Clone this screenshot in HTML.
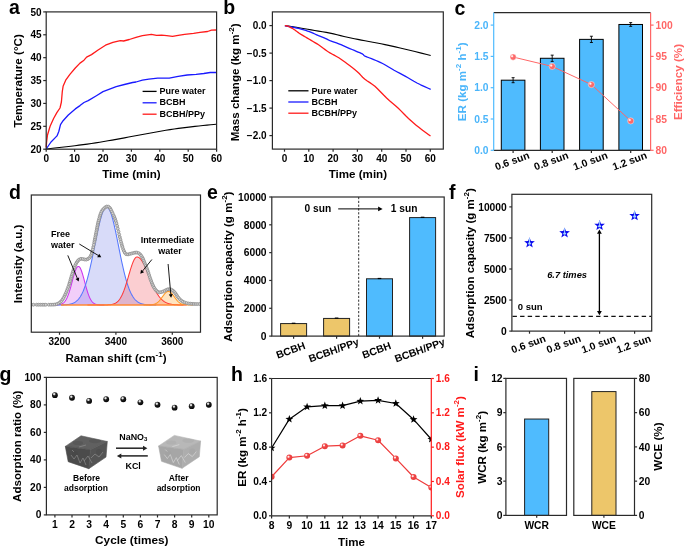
<!DOCTYPE html>
<html><head><meta charset="utf-8"><style>html,body{margin:0;padding:0;background:#fff;width:685px;height:547px;overflow:hidden}svg{display:block;will-change:transform}text{font-family:"Liberation Sans",sans-serif}</style></head>
<body><svg xmlns="http://www.w3.org/2000/svg" width="685" height="547" viewBox="0 0 685 547" font-family="Liberation Sans, sans-serif"><text x="9.10" y="14.30" font-size="19.5" text-anchor="start" fill="#000" font-weight="bold">a</text>
<polyline points="46.20,149.00 48.87,148.70 52.57,148.29 56.95,147.81 61.67,147.27 66.40,146.73 70.80,146.20 74.92,145.69 79.05,145.17 83.19,144.64 87.33,144.09 91.46,143.51 95.60,142.90 99.73,142.24 103.87,141.55 108.00,140.83 112.13,140.09 116.27,139.35 120.40,138.60 124.53,137.85 128.67,137.08 132.80,136.31 136.93,135.53 141.07,134.76 145.20,134.00 149.33,133.24 153.46,132.47 157.59,131.71 161.73,130.97 165.86,130.26 170.00,129.60 174.19,128.98 178.43,128.40 182.68,127.86 186.88,127.34 190.97,126.86 194.90,126.40 198.88,125.96 203.00,125.54 207.01,125.15 210.67,124.80 213.75,124.52 216.00,124.30" fill="none" stroke="#000" stroke-width="1.1" stroke-linejoin="round"/>
<polyline points="46.20,149.00 51.00,142.00 57.00,135.90 58.80,131.50 60.50,124.60 63.10,120.70 68.30,115.00 75.30,108.90 80.00,105.60 84.00,102.50 88.20,100.60 96.40,95.70 103.00,91.60 109.60,89.10 116.20,86.60 124.40,84.50 132.60,82.50 136.00,82.00 142.40,80.10 148.80,79.10 157.70,78.20 169.30,78.20 178.20,76.30 187.20,75.00 196.10,74.40 203.80,73.50 210.20,72.50 216.00,72.50" fill="none" stroke="#1a1aff" stroke-width="1.3" stroke-linejoin="round"/>
<polyline points="46.20,147.40 46.60,142.00 47.50,135.00 50.10,126.30 53.60,118.50 57.00,112.40 60.00,108.00 61.40,102.00 62.30,91.50 63.10,86.30 65.70,80.20 70.10,74.10 75.30,68.00 80.00,63.10 84.00,60.20 86.60,57.10 91.50,54.60 98.10,50.00 105.50,45.20 112.90,42.30 120.30,40.60 123.60,41.00 129.30,39.50 136.00,37.30 142.40,35.60 151.40,34.30 156.50,35.40 161.60,35.10 166.70,35.60 172.50,36.40 178.20,35.40 184.60,34.30 193.60,33.40 200.00,32.40 207.60,31.50 211.50,30.20 216.00,30.00" fill="none" stroke="#ff1a1a" stroke-width="1.3" stroke-linejoin="round"/>
<rect x="46.2" y="11.9" width="170.40" height="137.30" fill="none" stroke="#2a2a2a" stroke-width="1.2"/>
<line x1="43.20" y1="149.20" x2="46.20" y2="149.20" stroke="#2a2a2a" stroke-width="1.2"/>
<text x="41.60" y="152.80" font-size="10" text-anchor="end" fill="#000" font-weight="bold">20</text>
<line x1="43.20" y1="126.32" x2="46.20" y2="126.32" stroke="#2a2a2a" stroke-width="1.2"/>
<text x="41.60" y="129.92" font-size="10" text-anchor="end" fill="#000" font-weight="bold">25</text>
<line x1="43.20" y1="103.43" x2="46.20" y2="103.43" stroke="#2a2a2a" stroke-width="1.2"/>
<text x="41.60" y="107.03" font-size="10" text-anchor="end" fill="#000" font-weight="bold">30</text>
<line x1="43.20" y1="80.55" x2="46.20" y2="80.55" stroke="#2a2a2a" stroke-width="1.2"/>
<text x="41.60" y="84.15" font-size="10" text-anchor="end" fill="#000" font-weight="bold">35</text>
<line x1="43.20" y1="57.67" x2="46.20" y2="57.67" stroke="#2a2a2a" stroke-width="1.2"/>
<text x="41.60" y="61.27" font-size="10" text-anchor="end" fill="#000" font-weight="bold">40</text>
<line x1="43.20" y1="34.78" x2="46.20" y2="34.78" stroke="#2a2a2a" stroke-width="1.2"/>
<text x="41.60" y="38.38" font-size="10" text-anchor="end" fill="#000" font-weight="bold">45</text>
<line x1="43.20" y1="11.90" x2="46.20" y2="11.90" stroke="#2a2a2a" stroke-width="1.2"/>
<text x="41.60" y="15.50" font-size="10" text-anchor="end" fill="#000" font-weight="bold">50</text>
<line x1="46.20" y1="149.20" x2="46.20" y2="151.80" stroke="#2a2a2a" stroke-width="1.2"/>
<text x="46.20" y="161.60" font-size="10" text-anchor="middle" fill="#000" font-weight="bold">0</text>
<line x1="74.60" y1="149.20" x2="74.60" y2="151.80" stroke="#2a2a2a" stroke-width="1.2"/>
<text x="74.60" y="161.60" font-size="10" text-anchor="middle" fill="#000" font-weight="bold">10</text>
<line x1="103.00" y1="149.20" x2="103.00" y2="151.80" stroke="#2a2a2a" stroke-width="1.2"/>
<text x="103.00" y="161.60" font-size="10" text-anchor="middle" fill="#000" font-weight="bold">20</text>
<line x1="131.40" y1="149.20" x2="131.40" y2="151.80" stroke="#2a2a2a" stroke-width="1.2"/>
<text x="131.40" y="161.60" font-size="10" text-anchor="middle" fill="#000" font-weight="bold">30</text>
<line x1="159.80" y1="149.20" x2="159.80" y2="151.80" stroke="#2a2a2a" stroke-width="1.2"/>
<text x="159.80" y="161.60" font-size="10" text-anchor="middle" fill="#000" font-weight="bold">40</text>
<line x1="188.20" y1="149.20" x2="188.20" y2="151.80" stroke="#2a2a2a" stroke-width="1.2"/>
<text x="188.20" y="161.60" font-size="10" text-anchor="middle" fill="#000" font-weight="bold">50</text>
<line x1="216.60" y1="149.20" x2="216.60" y2="151.80" stroke="#2a2a2a" stroke-width="1.2"/>
<text x="216.60" y="161.60" font-size="10" text-anchor="middle" fill="#000" font-weight="bold">60</text>
<text x="131.40" y="178.20" font-size="11.6" text-anchor="middle" fill="#000" font-weight="bold">Time (min)</text>
<text x="22.00" y="80.90" font-size="11.6" text-anchor="middle" fill="#000" font-weight="bold" transform="rotate(-90 22.00 80.90)">Temperature (°C)</text>
<line x1="142.60" y1="91.40" x2="156.60" y2="91.40" stroke="#000" stroke-width="1.3"/>
<text x="159.40" y="93.80" font-size="9" text-anchor="start" fill="#000" font-weight="bold">Pure water</text>
<line x1="142.60" y1="102.80" x2="156.60" y2="102.80" stroke="#1a1aff" stroke-width="1.3"/>
<text x="159.40" y="105.20" font-size="9" text-anchor="start" fill="#000" font-weight="bold">BCBH</text>
<line x1="142.60" y1="114.20" x2="156.60" y2="114.20" stroke="#ff1a1a" stroke-width="1.3"/>
<text x="159.40" y="116.60" font-size="9" text-anchor="start" fill="#000" font-weight="bold">BCBH/PPy</text>
<text x="223.20" y="14.30" font-size="19.5" text-anchor="start" fill="#000" font-weight="bold">b</text>
<polyline points="284.90,25.60 285.57,25.69 286.50,25.82 287.61,25.96 288.80,26.13 290.00,26.30 291.10,26.46 292.15,26.60 293.31,26.77 294.74,26.99 296.60,27.30 298.94,27.71 301.66,28.20 304.67,28.74 307.88,29.32 311.20,29.90 314.71,30.49 318.48,31.09 322.37,31.72 326.26,32.39 330.00,33.10 333.58,33.89 337.09,34.74 340.56,35.62 344.02,36.49 347.50,37.30 350.96,38.04 354.38,38.74 357.82,39.41 361.34,40.09 365.00,40.80 368.87,41.54 372.90,42.28 377.00,43.04 381.07,43.82 385.00,44.60 388.62,45.36 392.01,46.09 395.41,46.85 399.08,47.70 403.30,48.70 408.64,50.00 414.92,51.55 421.28,53.14 426.83,54.53 430.70,55.50" fill="none" stroke="#000" stroke-width="1.1" stroke-linejoin="round"/>
<polyline points="284.90,25.60 285.62,25.77 286.64,26.01 287.89,26.30 289.30,26.60 290.92,26.91 292.77,27.24 294.71,27.61 296.60,28.00 298.43,28.43 300.25,28.88 302.07,29.37 303.90,29.90 305.72,30.46 307.55,31.06 309.37,31.70 311.20,32.40 313.02,33.18 314.85,34.02 316.68,34.88 318.50,35.70 320.40,36.47 322.34,37.23 324.19,37.95 325.80,38.60 326.96,39.14 327.81,39.58 328.70,40.04 330.00,40.60 331.88,41.30 334.12,42.09 336.50,42.93 338.80,43.80 340.98,44.71 343.15,45.67 345.32,46.64 347.50,47.60 349.76,48.56 352.06,49.52 354.29,50.45 356.30,51.30 358.10,52.04 359.74,52.69 361.18,53.30 362.40,53.90 363.15,54.45 363.53,54.94 364.00,55.47 365.00,56.10 366.76,56.87 369.01,57.74 371.45,58.67 373.80,59.60 375.94,60.48 378.03,61.35 380.21,62.32 382.60,63.50 385.30,65.00 388.21,66.72 391.20,68.52 394.10,70.20 396.86,71.71 399.58,73.14 402.30,74.57 405.10,76.10 407.97,77.77 410.88,79.52 413.88,81.29 417.00,83.00 420.62,84.79 424.59,86.63 428.20,88.26 430.70,89.40" fill="none" stroke="#1a1aff" stroke-width="1.3" stroke-linejoin="round"/>
<polyline points="284.90,25.60 285.37,25.66 286.02,25.74 286.85,25.90 287.80,26.20 288.98,26.71 290.36,27.38 291.76,28.11 293.00,28.80 294.01,29.43 294.90,30.05 295.74,30.67 296.60,31.30 297.50,31.95 298.39,32.62 299.29,33.28 300.20,33.90 301.03,34.43 301.82,34.89 302.72,35.41 303.90,36.10 305.47,37.02 307.32,38.11 309.29,39.27 311.20,40.40 313.04,41.48 314.89,42.57 316.72,43.67 318.50,44.80 320.24,46.01 321.95,47.27 323.59,48.50 325.10,49.60 326.35,50.49 327.41,51.24 328.54,52.00 330.00,52.90 331.93,53.98 334.16,55.17 336.52,56.45 338.80,57.80 340.96,59.22 343.09,60.72 345.25,62.31 347.50,64.00 349.93,65.83 352.49,67.78 355.00,69.77 357.30,71.70 359.23,73.55 360.92,75.38 362.62,77.18 364.60,79.00 366.93,80.72 369.48,82.38 372.16,84.17 374.90,86.30 377.73,88.95 380.66,91.96 383.64,95.07 386.60,98.00 389.56,100.68 392.54,103.24 395.48,105.76 398.30,108.30 400.95,110.89 403.49,113.49 405.98,116.05 408.50,118.50 411.04,120.80 413.56,122.99 416.12,125.13 418.80,127.30 421.90,129.71 425.29,132.25 428.36,134.52 430.50,136.10" fill="none" stroke="#ff1a1a" stroke-width="1.3" stroke-linejoin="round"/>
<rect x="272.4" y="11.9" width="170.90" height="137.20" fill="none" stroke="#2a2a2a" stroke-width="1.2"/>
<line x1="269.40" y1="25.60" x2="272.40" y2="25.60" stroke="#2a2a2a" stroke-width="1.2"/>
<text x="266.60" y="29.20" font-size="10" text-anchor="end" fill="#000" font-weight="bold">0.0</text>
<line x1="269.40" y1="53.10" x2="272.40" y2="53.10" stroke="#2a2a2a" stroke-width="1.2"/>
<text x="266.60" y="56.70" font-size="10" text-anchor="end" fill="#000" font-weight="bold">−0.5</text>
<line x1="269.40" y1="80.60" x2="272.40" y2="80.60" stroke="#2a2a2a" stroke-width="1.2"/>
<text x="266.60" y="84.20" font-size="10" text-anchor="end" fill="#000" font-weight="bold">−1.0</text>
<line x1="269.40" y1="108.10" x2="272.40" y2="108.10" stroke="#2a2a2a" stroke-width="1.2"/>
<text x="266.60" y="111.70" font-size="10" text-anchor="end" fill="#000" font-weight="bold">−1.5</text>
<line x1="269.40" y1="135.60" x2="272.40" y2="135.60" stroke="#2a2a2a" stroke-width="1.2"/>
<text x="266.60" y="139.20" font-size="10" text-anchor="end" fill="#000" font-weight="bold">−2.0</text>
<line x1="284.50" y1="149.10" x2="284.50" y2="151.70" stroke="#2a2a2a" stroke-width="1.2"/>
<text x="284.50" y="161.60" font-size="10" text-anchor="middle" fill="#000" font-weight="bold">0</text>
<line x1="308.80" y1="149.10" x2="308.80" y2="151.70" stroke="#2a2a2a" stroke-width="1.2"/>
<text x="308.80" y="161.60" font-size="10" text-anchor="middle" fill="#000" font-weight="bold">10</text>
<line x1="333.10" y1="149.10" x2="333.10" y2="151.70" stroke="#2a2a2a" stroke-width="1.2"/>
<text x="333.10" y="161.60" font-size="10" text-anchor="middle" fill="#000" font-weight="bold">20</text>
<line x1="357.40" y1="149.10" x2="357.40" y2="151.70" stroke="#2a2a2a" stroke-width="1.2"/>
<text x="357.40" y="161.60" font-size="10" text-anchor="middle" fill="#000" font-weight="bold">30</text>
<line x1="381.70" y1="149.10" x2="381.70" y2="151.70" stroke="#2a2a2a" stroke-width="1.2"/>
<text x="381.70" y="161.60" font-size="10" text-anchor="middle" fill="#000" font-weight="bold">40</text>
<line x1="406.00" y1="149.10" x2="406.00" y2="151.70" stroke="#2a2a2a" stroke-width="1.2"/>
<text x="406.00" y="161.60" font-size="10" text-anchor="middle" fill="#000" font-weight="bold">50</text>
<line x1="430.30" y1="149.10" x2="430.30" y2="151.70" stroke="#2a2a2a" stroke-width="1.2"/>
<text x="430.30" y="161.60" font-size="10" text-anchor="middle" fill="#000" font-weight="bold">60</text>
<text x="357.85" y="178.20" font-size="11.6" text-anchor="middle" fill="#000" font-weight="bold">Time (min)</text>
<text x="238.60" y="82.35" font-size="11.6" text-anchor="middle" fill="#000" font-weight="bold" transform="rotate(-90 238.60 82.35)">Mass change (kg m<tspan dy="-4.8" font-size="8">-2</tspan><tspan dy="4.8">)</tspan></text>
<line x1="288.30" y1="90.80" x2="308.50" y2="90.80" stroke="#000" stroke-width="1.3"/>
<text x="311.40" y="93.80" font-size="9" text-anchor="start" fill="#000" font-weight="bold">Pure water</text>
<line x1="288.30" y1="102.00" x2="308.50" y2="102.00" stroke="#1a1aff" stroke-width="1.3"/>
<text x="311.40" y="105.00" font-size="9" text-anchor="start" fill="#000" font-weight="bold">BCBH</text>
<line x1="288.30" y1="113.20" x2="308.50" y2="113.20" stroke="#ff1a1a" stroke-width="1.3"/>
<text x="311.40" y="116.20" font-size="9" text-anchor="start" fill="#000" font-weight="bold">BCBH/PPy</text>
<text x="454.50" y="14.50" font-size="19.5" text-anchor="start" fill="#000" font-weight="bold">c</text>
<rect x="501.30" y="80.19" width="23.60" height="70.11" fill="#4fbbfe" stroke="#000" stroke-width="1.0"/>
<line x1="513.10" y1="77.68" x2="513.10" y2="82.69" stroke="#000" stroke-width="0.9"/>
<line x1="511.60" y1="77.68" x2="514.60" y2="77.68" stroke="#000" stroke-width="0.9"/>
<line x1="511.60" y1="82.69" x2="514.60" y2="82.69" stroke="#000" stroke-width="0.9"/>
<rect x="540.40" y="58.28" width="23.60" height="92.02" fill="#4fbbfe" stroke="#000" stroke-width="1.0"/>
<line x1="552.20" y1="55.15" x2="552.20" y2="61.41" stroke="#000" stroke-width="0.9"/>
<line x1="550.70" y1="55.15" x2="553.70" y2="55.15" stroke="#000" stroke-width="0.9"/>
<line x1="550.70" y1="61.41" x2="553.70" y2="61.41" stroke="#000" stroke-width="0.9"/>
<rect x="579.60" y="39.37" width="23.60" height="110.93" fill="#4fbbfe" stroke="#000" stroke-width="1.0"/>
<line x1="591.40" y1="36.24" x2="591.40" y2="42.50" stroke="#000" stroke-width="0.9"/>
<line x1="589.90" y1="36.24" x2="592.90" y2="36.24" stroke="#000" stroke-width="0.9"/>
<line x1="589.90" y1="42.50" x2="592.90" y2="42.50" stroke="#000" stroke-width="0.9"/>
<rect x="618.90" y="24.47" width="23.60" height="125.83" fill="#4fbbfe" stroke="#000" stroke-width="1.0"/>
<line x1="630.70" y1="22.60" x2="630.70" y2="26.35" stroke="#000" stroke-width="0.9"/>
<line x1="629.20" y1="22.60" x2="632.20" y2="22.60" stroke="#000" stroke-width="0.9"/>
<line x1="629.20" y1="26.35" x2="632.20" y2="26.35" stroke="#000" stroke-width="0.9"/>
<polyline points="513.10,57.03 552.20,66.42 591.40,84.57 630.70,120.88" fill="none" stroke="#ff6666" stroke-width="1.0" stroke-linejoin="round"/>
<circle cx="513.10" cy="57.03" r="3.1" fill="url(#gs)" stroke="#fff" stroke-width="0.45"/>
<circle cx="552.20" cy="66.42" r="3.1" fill="url(#gs)" stroke="#fff" stroke-width="0.45"/>
<circle cx="591.40" cy="84.57" r="3.1" fill="url(#gs)" stroke="#fff" stroke-width="0.45"/>
<circle cx="630.70" cy="120.88" r="3.1" fill="url(#gs)" stroke="#fff" stroke-width="0.45"/>
<line x1="493.70" y1="12.70" x2="650.60" y2="12.70" stroke="#2a2a2a" stroke-width="1.2"/>
<line x1="493.70" y1="150.30" x2="650.60" y2="150.30" stroke="#2a2a2a" stroke-width="1.2"/>
<line x1="493.70" y1="12.70" x2="493.70" y2="150.30" stroke="#4fbbfe" stroke-width="1.2"/>
<line x1="650.60" y1="12.70" x2="650.60" y2="150.30" stroke="#ff6666" stroke-width="1.2"/>
<line x1="490.70" y1="150.30" x2="493.70" y2="150.30" stroke="#4fbbfe" stroke-width="1.2"/>
<text x="488.60" y="154.00" font-size="10.3" text-anchor="end" fill="#4ab5fa" font-weight="bold">0.0</text>
<line x1="490.70" y1="119.00" x2="493.70" y2="119.00" stroke="#4fbbfe" stroke-width="1.2"/>
<text x="488.60" y="122.70" font-size="10.3" text-anchor="end" fill="#4ab5fa" font-weight="bold">0.5</text>
<line x1="490.70" y1="87.70" x2="493.70" y2="87.70" stroke="#4fbbfe" stroke-width="1.2"/>
<text x="488.60" y="91.40" font-size="10.3" text-anchor="end" fill="#4ab5fa" font-weight="bold">1.0</text>
<line x1="490.70" y1="56.40" x2="493.70" y2="56.40" stroke="#4fbbfe" stroke-width="1.2"/>
<text x="488.60" y="60.10" font-size="10.3" text-anchor="end" fill="#4ab5fa" font-weight="bold">1.5</text>
<line x1="490.70" y1="25.10" x2="493.70" y2="25.10" stroke="#4fbbfe" stroke-width="1.2"/>
<text x="488.60" y="28.80" font-size="10.3" text-anchor="end" fill="#4ab5fa" font-weight="bold">2.0</text>
<line x1="650.60" y1="150.30" x2="653.60" y2="150.30" stroke="#ff6666" stroke-width="1.2"/>
<text x="655.60" y="154.00" font-size="10.3" text-anchor="start" fill="#ff6666" font-weight="bold">80</text>
<line x1="650.60" y1="119.00" x2="653.60" y2="119.00" stroke="#ff6666" stroke-width="1.2"/>
<text x="655.60" y="122.70" font-size="10.3" text-anchor="start" fill="#ff6666" font-weight="bold">85</text>
<line x1="650.60" y1="87.70" x2="653.60" y2="87.70" stroke="#ff6666" stroke-width="1.2"/>
<text x="655.60" y="91.40" font-size="10.3" text-anchor="start" fill="#ff6666" font-weight="bold">90</text>
<line x1="650.60" y1="56.40" x2="653.60" y2="56.40" stroke="#ff6666" stroke-width="1.2"/>
<text x="655.60" y="60.10" font-size="10.3" text-anchor="start" fill="#ff6666" font-weight="bold">95</text>
<line x1="650.60" y1="25.10" x2="653.60" y2="25.10" stroke="#ff6666" stroke-width="1.2"/>
<text x="655.60" y="28.80" font-size="10.3" text-anchor="start" fill="#ff6666" font-weight="bold">100</text>
<line x1="513.10" y1="150.30" x2="513.10" y2="152.90" stroke="#2a2a2a" stroke-width="1.2"/>
<text x="513.30" y="164.30" font-size="10.4" text-anchor="middle" fill="#000" font-weight="bold" transform="rotate(-20 513.30 164.30)">0.6 sun</text>
<line x1="552.20" y1="150.30" x2="552.20" y2="152.90" stroke="#2a2a2a" stroke-width="1.2"/>
<text x="552.40" y="164.30" font-size="10.4" text-anchor="middle" fill="#000" font-weight="bold" transform="rotate(-20 552.40 164.30)">0.8 sun</text>
<line x1="591.40" y1="150.30" x2="591.40" y2="152.90" stroke="#2a2a2a" stroke-width="1.2"/>
<text x="591.60" y="164.30" font-size="10.4" text-anchor="middle" fill="#000" font-weight="bold" transform="rotate(-20 591.60 164.30)">1.0 sun</text>
<line x1="630.70" y1="150.30" x2="630.70" y2="152.90" stroke="#2a2a2a" stroke-width="1.2"/>
<text x="630.90" y="164.30" font-size="10.4" text-anchor="middle" fill="#000" font-weight="bold" transform="rotate(-20 630.90 164.30)">1.2 sun</text>
<text x="465.70" y="81.80" font-size="11.6" text-anchor="middle" fill="#4ab5fa" font-weight="bold" transform="rotate(-90 465.70 81.80)">ER (kg m<tspan dy="-4.8" font-size="8">-2</tspan><tspan dy="4.8"> h</tspan><tspan dy="-4.8" font-size="8">-1</tspan><tspan dy="4.8">)</tspan></text>
<text x="682.00" y="82.00" font-size="11.6" text-anchor="middle" fill="#ff6666" font-weight="bold" transform="rotate(-90 682.00 82.00)">Efficiency (%)</text>
<text x="8.90" y="199.00" font-size="19.5" text-anchor="start" fill="#000" font-weight="bold">d</text>
<defs><clipPath id="clipd"><rect x="31.3" y="195.0" width="169.2" height="137.2"/></clipPath></defs>
<path d="M52.45,304.99 L52.73,304.99 L53.01,304.99 L53.30,304.99 L53.58,304.99 L53.86,304.98 L54.14,304.98 L54.42,304.98 L54.71,304.97 L54.99,304.97 L55.27,304.96 L55.55,304.96 L55.83,304.95 L56.12,304.94 L56.40,304.93 L56.68,304.92 L56.96,304.90 L57.24,304.88 L57.53,304.87 L57.81,304.84 L58.09,304.82 L58.37,304.79 L58.65,304.76 L58.94,304.72 L59.22,304.67 L59.50,304.63 L59.78,304.57 L60.06,304.51 L60.35,304.44 L60.63,304.36 L60.91,304.27 L61.19,304.17 L61.47,304.06 L61.76,303.94 L62.04,303.81 L62.32,303.65 L62.60,303.49 L62.88,303.30 L63.17,303.10 L63.45,302.88 L63.73,302.64 L64.01,302.37 L64.29,302.08 L64.58,301.77 L64.86,301.43 L65.14,301.06 L65.42,300.66 L65.70,300.23 L65.99,299.78 L66.27,299.28 L66.55,298.76 L66.83,298.20 L67.11,297.61 L67.40,296.98 L67.68,296.32 L67.96,295.62 L68.24,294.88 L68.52,294.11 L68.81,293.31 L69.09,292.47 L69.37,291.60 L69.65,290.70 L69.93,289.77 L70.22,288.81 L70.50,287.83 L70.78,286.82 L71.06,285.80 L71.34,284.76 L71.63,283.71 L71.91,282.65 L72.19,281.59 L72.47,280.52 L72.75,279.47 L73.04,278.42 L73.32,277.38 L73.60,276.36 L73.88,275.37 L74.16,274.41 L74.45,273.48 L74.73,272.58 L75.01,271.74 L75.29,270.94 L75.57,270.19 L75.86,269.50 L76.14,268.87 L76.42,268.31 L76.70,267.81 L76.98,267.38 L77.27,267.03 L77.55,266.76 L77.83,266.56 L78.11,266.44 L78.39,266.40 L78.68,266.44 L78.96,266.56 L79.24,266.76 L79.52,267.03 L79.80,267.38 L80.09,267.81 L80.37,268.31 L80.65,268.87 L80.93,269.50 L81.21,270.19 L81.50,270.94 L81.78,271.74 L82.06,272.58 L82.34,273.48 L82.62,274.41 L82.91,275.37 L83.19,276.36 L83.47,277.38 L83.75,278.42 L84.03,279.47 L84.32,280.52 L84.60,281.59 L84.88,282.65 L85.16,283.71 L85.44,284.76 L85.73,285.80 L86.01,286.82 L86.29,287.83 L86.57,288.81 L86.85,289.77 L87.14,290.70 L87.42,291.60 L87.70,292.47 L87.98,293.31 L88.26,294.11 L88.55,294.88 L88.83,295.62 L89.11,296.32 L89.39,296.98 L89.67,297.61 L89.96,298.20 L90.24,298.76 L90.52,299.28 L90.80,299.78 L91.08,300.23 L91.37,300.66 L91.65,301.06 L91.93,301.43 L92.21,301.77 L92.49,302.08 L92.78,302.37 L93.06,302.64 L93.34,302.88 L93.62,303.10 L93.90,303.30 L94.19,303.49 L94.47,303.65 L94.75,303.81 L95.03,303.94 L95.31,304.06 L95.60,304.17 L95.88,304.27 L96.16,304.36 L96.44,304.44 L96.72,304.51 L97.01,304.57 L97.29,304.63 L97.57,304.67 L97.85,304.72 L98.13,304.76 L98.42,304.79 L98.70,304.82 L98.98,304.84 L99.26,304.87 L99.54,304.88 L99.83,304.90 L100.11,304.92 L100.39,304.93 L100.67,304.94 L100.95,304.95 L101.24,304.96 L101.52,304.96 L101.80,304.97 L102.08,304.97 L102.36,304.98 L102.65,304.98 L102.93,304.98 L103.21,304.99 L103.49,304.99 L103.77,304.99 L104.06,304.99 L104.34,304.99 Z" fill="rgba(210,80,235,0.28)" stroke="none"/>
<path d="M56.96,304.98 L57.24,304.98 L57.53,304.98 L57.81,304.98 L58.09,304.98 L58.37,304.98 L58.65,304.97 L58.94,304.97 L59.22,304.97 L59.50,304.96 L59.78,304.96 L60.06,304.96 L60.35,304.95 L60.63,304.95 L60.91,304.94 L61.19,304.94 L61.47,304.93 L61.76,304.92 L62.04,304.92 L62.32,304.91 L62.60,304.90 L62.88,304.89 L63.17,304.88 L63.45,304.87 L63.73,304.86 L64.01,304.85 L64.29,304.83 L64.58,304.82 L64.86,304.80 L65.14,304.79 L65.42,304.77 L65.70,304.75 L65.99,304.73 L66.27,304.70 L66.55,304.68 L66.83,304.65 L67.11,304.62 L67.40,304.59 L67.68,304.56 L67.96,304.52 L68.24,304.48 L68.52,304.44 L68.81,304.40 L69.09,304.35 L69.37,304.30 L69.65,304.24 L69.93,304.19 L70.22,304.12 L70.50,304.06 L70.78,303.99 L71.06,303.91 L71.34,303.83 L71.63,303.75 L71.91,303.65 L72.19,303.56 L72.47,303.45 L72.75,303.35 L73.04,303.23 L73.32,303.11 L73.60,302.98 L73.88,302.84 L74.16,302.69 L74.45,302.54 L74.73,302.37 L75.01,302.20 L75.29,302.02 L75.57,301.83 L75.86,301.62 L76.14,301.41 L76.42,301.18 L76.70,300.94 L76.98,300.69 L77.27,300.43 L77.55,300.16 L77.83,299.87 L78.11,299.56 L78.39,299.24 L78.68,298.91 L78.96,298.56 L79.24,298.19 L79.52,297.81 L79.80,297.41 L80.09,296.99 L80.37,296.56 L80.65,296.10 L80.93,295.63 L81.21,295.13 L81.50,294.62 L81.78,294.09 L82.06,293.53 L82.34,292.96 L82.62,292.36 L82.91,291.74 L83.19,291.09 L83.47,290.43 L83.75,289.74 L84.03,289.03 L84.32,288.29 L84.60,287.53 L84.88,286.75 L85.16,285.94 L85.44,285.10 L85.73,284.24 L86.01,283.36 L86.29,282.45 L86.57,281.52 L86.85,280.56 L87.14,279.58 L87.42,278.58 L87.70,277.54 L87.98,276.49 L88.26,275.41 L88.55,274.31 L88.83,273.18 L89.11,272.04 L89.39,270.87 L89.67,269.68 L89.96,268.46 L90.24,267.23 L90.52,265.98 L90.80,264.71 L91.08,263.42 L91.37,262.12 L91.65,260.80 L91.93,259.46 L92.21,258.11 L92.49,256.75 L92.78,255.38 L93.06,254.00 L93.34,252.60 L93.62,251.20 L93.90,249.80 L94.19,248.39 L94.47,246.97 L94.75,245.56 L95.03,244.15 L95.31,242.73 L95.60,241.32 L95.88,239.92 L96.16,238.52 L96.44,237.13 L96.72,235.75 L97.01,234.38 L97.29,233.03 L97.57,231.69 L97.85,230.37 L98.13,229.07 L98.42,227.79 L98.70,226.53 L98.98,225.29 L99.26,224.09 L99.54,222.91 L99.83,221.76 L100.11,220.65 L100.39,219.56 L100.67,218.52 L100.95,217.50 L101.24,216.53 L101.52,215.60 L101.80,214.71 L102.08,213.86 L102.36,213.05 L102.65,212.30 L102.93,211.58 L103.21,210.92 L103.49,210.30 L103.77,209.74 L104.06,209.22 L104.34,208.76 L104.62,208.35 L104.90,207.99 L105.18,207.69 L105.47,207.44 L105.75,207.25 L106.03,207.11 L106.31,207.03 L106.59,207.00 L106.88,207.03 L107.16,207.11 L107.44,207.25 L107.72,207.44 L108.00,207.69 L108.29,207.99 L108.57,208.35 L108.85,208.76 L109.13,209.22 L109.41,209.74 L109.70,210.30 L109.98,210.92 L110.26,211.58 L110.54,212.30 L110.82,213.05 L111.11,213.86 L111.39,214.71 L111.67,215.60 L111.95,216.53 L112.23,217.50 L112.52,218.52 L112.80,219.56 L113.08,220.65 L113.36,221.76 L113.64,222.91 L113.93,224.09 L114.21,225.29 L114.49,226.53 L114.77,227.79 L115.05,229.07 L115.34,230.37 L115.62,231.69 L115.90,233.03 L116.18,234.38 L116.46,235.75 L116.75,237.13 L117.03,238.52 L117.31,239.92 L117.59,241.32 L117.87,242.73 L118.16,244.15 L118.44,245.56 L118.72,246.97 L119.00,248.39 L119.28,249.80 L119.57,251.20 L119.85,252.60 L120.13,254.00 L120.41,255.38 L120.69,256.75 L120.98,258.11 L121.26,259.46 L121.54,260.80 L121.82,262.12 L122.10,263.42 L122.39,264.71 L122.67,265.98 L122.95,267.23 L123.23,268.46 L123.51,269.68 L123.80,270.87 L124.08,272.04 L124.36,273.18 L124.64,274.31 L124.92,275.41 L125.21,276.49 L125.49,277.54 L125.77,278.58 L126.05,279.58 L126.33,280.56 L126.62,281.52 L126.90,282.45 L127.18,283.36 L127.46,284.24 L127.74,285.10 L128.03,285.94 L128.31,286.75 L128.59,287.53 L128.87,288.29 L129.15,289.03 L129.44,289.74 L129.72,290.43 L130.00,291.09 L130.28,291.74 L130.56,292.36 L130.85,292.96 L131.13,293.53 L131.41,294.09 L131.69,294.62 L131.97,295.13 L132.26,295.63 L132.54,296.10 L132.82,296.56 L133.10,296.99 L133.38,297.41 L133.67,297.81 L133.95,298.19 L134.23,298.56 L134.51,298.91 L134.79,299.24 L135.08,299.56 L135.36,299.87 L135.64,300.16 L135.92,300.43 L136.20,300.69 L136.49,300.94 L136.77,301.18 L137.05,301.41 L137.33,301.62 L137.61,301.83 L137.90,302.02 L138.18,302.20 L138.46,302.37 L138.74,302.54 L139.02,302.69 L139.31,302.84 L139.59,302.98 L139.87,303.11 L140.15,303.23 L140.43,303.35 L140.72,303.45 L141.00,303.56 L141.28,303.65 L141.56,303.75 L141.84,303.83 L142.13,303.91 L142.41,303.99 L142.69,304.06 L142.97,304.12 L143.25,304.19 L143.54,304.24 L143.82,304.30 L144.10,304.35 L144.38,304.40 L144.66,304.44 L144.95,304.48 L145.23,304.52 L145.51,304.56 L145.79,304.59 L146.07,304.62 L146.36,304.65 L146.64,304.68 L146.92,304.70 L147.20,304.73 L147.48,304.75 L147.77,304.77 L148.05,304.79 L148.33,304.80 L148.61,304.82 L148.89,304.83 L149.18,304.85 L149.46,304.86 L149.74,304.87 L150.02,304.88 L150.30,304.89 L150.59,304.90 L150.87,304.91 L151.15,304.92 L151.43,304.92 L151.71,304.93 L152.00,304.94 L152.28,304.94 L152.56,304.95 L152.84,304.95 L153.12,304.96 L153.41,304.96 L153.69,304.96 L153.97,304.97 L154.25,304.97 L154.53,304.97 L154.82,304.98 L155.10,304.98 L155.38,304.98 L155.66,304.98 L155.94,304.98 L156.23,304.98 Z" fill="rgba(100,110,230,0.25)" stroke="none"/>
<path d="M87.42,305.00 L87.70,305.00 L87.98,305.00 L88.26,305.00 L88.55,305.00 L88.83,305.00 L89.11,305.00 L89.39,305.00 L89.67,305.00 L89.96,305.00 L90.24,305.00 L90.52,305.00 L90.80,305.00 L91.08,305.00 L91.37,305.00 L91.65,305.00 L91.93,305.00 L92.21,305.00 L92.49,305.00 L92.78,305.00 L93.06,305.00 L93.34,305.00 L93.62,305.00 L93.90,305.00 L94.19,305.00 L94.47,305.00 L94.75,305.00 L95.03,305.00 L95.31,305.00 L95.60,305.00 L95.88,305.00 L96.16,305.00 L96.44,305.00 L96.72,305.00 L97.01,305.00 L97.29,305.00 L97.57,305.00 L97.85,305.00 L98.13,305.00 L98.42,305.00 L98.70,305.00 L98.98,305.00 L99.26,305.00 L99.54,305.00 L99.83,305.00 L100.11,305.00 L100.39,305.00 L100.67,305.00 L100.95,304.99 L101.24,304.99 L101.52,304.99 L101.80,304.99 L102.08,304.99 L102.36,304.99 L102.65,304.99 L102.93,304.99 L103.21,304.98 L103.49,304.98 L103.77,304.98 L104.06,304.98 L104.34,304.97 L104.62,304.97 L104.90,304.96 L105.18,304.96 L105.47,304.95 L105.75,304.95 L106.03,304.94 L106.31,304.93 L106.59,304.93 L106.88,304.92 L107.16,304.91 L107.44,304.90 L107.72,304.88 L108.00,304.87 L108.29,304.85 L108.57,304.83 L108.85,304.81 L109.13,304.79 L109.41,304.77 L109.70,304.74 L109.98,304.71 L110.26,304.68 L110.54,304.65 L110.82,304.61 L111.11,304.56 L111.39,304.52 L111.67,304.47 L111.95,304.41 L112.23,304.35 L112.52,304.28 L112.80,304.21 L113.08,304.13 L113.36,304.05 L113.64,303.96 L113.93,303.85 L114.21,303.75 L114.49,303.63 L114.77,303.50 L115.05,303.37 L115.34,303.22 L115.62,303.06 L115.90,302.89 L116.18,302.71 L116.46,302.51 L116.75,302.31 L117.03,302.08 L117.31,301.85 L117.59,301.59 L117.87,301.32 L118.16,301.04 L118.44,300.73 L118.72,300.41 L119.00,300.07 L119.28,299.71 L119.57,299.33 L119.85,298.93 L120.13,298.50 L120.41,298.06 L120.69,297.59 L120.98,297.11 L121.26,296.59 L121.54,296.06 L121.82,295.50 L122.10,294.92 L122.39,294.31 L122.67,293.68 L122.95,293.03 L123.23,292.35 L123.51,291.65 L123.80,290.93 L124.08,290.18 L124.36,289.42 L124.64,288.63 L124.92,287.82 L125.21,286.99 L125.49,286.13 L125.77,285.27 L126.05,284.38 L126.33,283.48 L126.62,282.56 L126.90,281.64 L127.18,280.70 L127.46,279.75 L127.74,278.79 L128.03,277.82 L128.31,276.86 L128.59,275.89 L128.87,274.92 L129.15,273.95 L129.44,272.99 L129.72,272.03 L130.00,271.08 L130.28,270.14 L130.56,269.22 L130.85,268.32 L131.13,267.43 L131.41,266.56 L131.69,265.72 L131.97,264.91 L132.26,264.12 L132.54,263.36 L132.82,262.64 L133.10,261.95 L133.38,261.30 L133.67,260.69 L133.95,260.12 L134.23,259.59 L134.51,259.11 L134.79,258.68 L135.08,258.29 L135.36,257.95 L135.64,257.66 L135.92,257.42 L136.20,257.24 L136.49,257.11 L136.77,257.03 L137.05,257.00 L137.33,257.01 L137.61,257.05 L137.90,257.12 L138.18,257.22 L138.46,257.34 L138.74,257.49 L139.02,257.66 L139.31,257.86 L139.59,258.09 L139.87,258.34 L140.15,258.62 L140.43,258.92 L140.72,259.25 L141.00,259.59 L141.28,259.97 L141.56,260.36 L141.84,260.78 L142.13,261.21 L142.41,261.67 L142.69,262.14 L142.97,262.64 L143.25,263.15 L143.54,263.68 L143.82,264.23 L144.10,264.79 L144.38,265.37 L144.66,265.96 L144.95,266.56 L145.23,267.18 L145.51,267.81 L145.79,268.45 L146.07,269.09 L146.36,269.75 L146.64,270.41 L146.92,271.08 L147.20,271.76 L147.48,272.44 L147.77,273.12 L148.05,273.81 L148.33,274.50 L148.61,275.19 L148.89,275.89 L149.18,276.58 L149.46,277.27 L149.74,277.96 L150.02,278.65 L150.30,279.34 L150.59,280.02 L150.87,280.70 L151.15,281.37 L151.43,282.04 L151.71,282.70 L152.00,283.35 L152.28,284.00 L152.56,284.64 L152.84,285.27 L153.12,285.89 L153.41,286.50 L153.69,287.10 L153.97,287.70 L154.25,288.28 L154.53,288.85 L154.82,289.42 L155.10,289.97 L155.38,290.51 L155.66,291.04 L155.94,291.55 L156.23,292.06 L156.51,292.55 L156.79,293.03 L157.07,293.50 L157.35,293.96 L157.64,294.40 L157.92,294.83 L158.20,295.25 L158.48,295.66 L158.76,296.06 L159.05,296.44 L159.33,296.82 L159.61,297.18 L159.89,297.53 L160.17,297.86 L160.46,298.19 L160.74,298.50 L161.02,298.81 L161.30,299.10 L161.58,299.38 L161.87,299.65 L162.15,299.92 L162.43,300.17 L162.71,300.41 L162.99,300.64 L163.28,300.86 L163.56,301.08 L163.84,301.28 L164.12,301.48 L164.40,301.67 L164.69,301.85 L164.97,302.02 L165.25,302.18 L165.53,302.34 L165.81,302.49 L166.10,302.63 L166.38,302.76 L166.66,302.89 L166.94,303.01 L167.22,303.13 L167.51,303.24 L167.79,303.35 L168.07,303.44 L168.35,303.54 L168.63,303.63 L168.92,303.71 L169.20,303.79 L169.48,303.87 L169.76,303.94 L170.04,304.01 L170.33,304.07 L170.61,304.13 L170.89,304.19 L171.17,304.24 L171.45,304.29 L171.74,304.34 L172.02,304.39 L172.30,304.43 L172.58,304.47 L172.86,304.50 L173.15,304.54 L173.43,304.57 L173.71,304.60 L173.99,304.63 L174.27,304.66 L174.56,304.68 L174.84,304.70 L175.12,304.73 L175.40,304.75 L175.68,304.77 L175.97,304.78 L176.25,304.80 L176.53,304.81 L176.81,304.83 L177.09,304.84 L177.38,304.85 L177.66,304.87 L177.94,304.88 L178.22,304.89 L178.50,304.90 L178.79,304.90 L179.07,304.91 L179.35,304.92 L179.63,304.93 L179.91,304.93 L180.20,304.94 L180.48,304.94 L180.76,304.95 L181.04,304.95 L181.32,304.96 L181.61,304.96 L181.89,304.96 L182.17,304.97 L182.45,304.97 L182.73,304.97 L183.02,304.97 L183.30,304.98 L183.58,304.98 L183.86,304.98 L184.14,304.98 L184.43,304.98 L184.71,304.99 L184.99,304.99 L185.27,304.99 L185.55,304.99 L185.84,304.99 L186.12,304.99 L186.40,304.99 L186.68,304.99 Z" fill="rgba(240,80,90,0.28)" stroke="none"/>
<path d="M143.54,305.00 L143.82,305.00 L144.10,305.00 L144.38,305.00 L144.66,305.00 L144.95,304.99 L145.23,304.99 L145.51,304.99 L145.79,304.99 L146.07,304.99 L146.36,304.99 L146.64,304.98 L146.92,304.98 L147.20,304.98 L147.48,304.97 L147.77,304.97 L148.05,304.96 L148.33,304.96 L148.61,304.95 L148.89,304.94 L149.18,304.93 L149.46,304.92 L149.74,304.90 L150.02,304.89 L150.30,304.87 L150.59,304.85 L150.87,304.83 L151.15,304.80 L151.43,304.77 L151.71,304.74 L152.00,304.70 L152.28,304.66 L152.56,304.61 L152.84,304.56 L153.12,304.50 L153.41,304.44 L153.69,304.37 L153.97,304.29 L154.25,304.20 L154.53,304.11 L154.82,304.00 L155.10,303.89 L155.38,303.77 L155.66,303.63 L155.94,303.49 L156.23,303.33 L156.51,303.16 L156.79,302.98 L157.07,302.78 L157.35,302.58 L157.64,302.35 L157.92,302.12 L158.20,301.87 L158.48,301.61 L158.76,301.33 L159.05,301.04 L159.33,300.74 L159.61,300.43 L159.89,300.10 L160.17,299.76 L160.46,299.41 L160.74,299.05 L161.02,298.68 L161.30,298.30 L161.58,297.92 L161.87,297.53 L162.15,297.14 L162.43,296.75 L162.71,296.36 L162.99,295.97 L163.28,295.58 L163.56,295.20 L163.84,294.83 L164.12,294.46 L164.40,294.11 L164.69,293.77 L164.97,293.45 L165.25,293.14 L165.53,292.86 L165.81,292.59 L166.10,292.35 L166.38,292.13 L166.66,291.94 L166.94,291.78 L167.22,291.64 L167.51,291.54 L167.79,291.46 L168.07,291.42 L168.35,291.40 L168.63,291.42 L168.92,291.46 L169.20,291.54 L169.48,291.64 L169.76,291.78 L170.04,291.94 L170.33,292.13 L170.61,292.35 L170.89,292.59 L171.17,292.86 L171.45,293.14 L171.74,293.45 L172.02,293.77 L172.30,294.11 L172.58,294.46 L172.86,294.83 L173.15,295.20 L173.43,295.58 L173.71,295.97 L173.99,296.36 L174.27,296.75 L174.56,297.14 L174.84,297.53 L175.12,297.92 L175.40,298.30 L175.68,298.68 L175.97,299.05 L176.25,299.41 L176.53,299.76 L176.81,300.10 L177.09,300.43 L177.38,300.74 L177.66,301.04 L177.94,301.33 L178.22,301.61 L178.50,301.87 L178.79,302.12 L179.07,302.35 L179.35,302.58 L179.63,302.78 L179.91,302.98 L180.20,303.16 L180.48,303.33 L180.76,303.49 L181.04,303.63 L181.32,303.77 L181.61,303.89 L181.89,304.00 L182.17,304.11 L182.45,304.20 L182.73,304.29 L183.02,304.37 L183.30,304.44 L183.58,304.50 L183.86,304.56 L184.14,304.61 L184.43,304.66 L184.71,304.70 L184.99,304.74 L185.27,304.77 L185.55,304.80 L185.84,304.83 L186.12,304.85 L186.40,304.87 L186.68,304.89 L186.96,304.90 L187.25,304.92 L187.53,304.93 L187.81,304.94 L188.09,304.95 L188.37,304.96 L188.66,304.96 L188.94,304.97 L189.22,304.97 L189.50,304.98 L189.78,304.98 L190.07,304.98 L190.35,304.99 L190.63,304.99 L190.91,304.99 L191.19,304.99 L191.48,304.99 L191.76,304.99 L192.04,305.00 L192.32,305.00 L192.60,305.00 L192.89,305.00 L193.17,305.00 Z" fill="rgba(255,170,60,0.32)" stroke="none"/>
<polyline points="52.45,304.99 52.73,304.99 53.01,304.99 53.30,304.99 53.58,304.99 53.86,304.98 54.14,304.98 54.42,304.98 54.71,304.97 54.99,304.97 55.27,304.96 55.55,304.96 55.83,304.95 56.12,304.94 56.40,304.93 56.68,304.92 56.96,304.90 57.24,304.88 57.53,304.87 57.81,304.84 58.09,304.82 58.37,304.79 58.65,304.76 58.94,304.72 59.22,304.67 59.50,304.63 59.78,304.57 60.06,304.51 60.35,304.44 60.63,304.36 60.91,304.27 61.19,304.17 61.47,304.06 61.76,303.94 62.04,303.81 62.32,303.65 62.60,303.49 62.88,303.30 63.17,303.10 63.45,302.88 63.73,302.64 64.01,302.37 64.29,302.08 64.58,301.77 64.86,301.43 65.14,301.06 65.42,300.66 65.70,300.23 65.99,299.78 66.27,299.28 66.55,298.76 66.83,298.20 67.11,297.61 67.40,296.98 67.68,296.32 67.96,295.62 68.24,294.88 68.52,294.11 68.81,293.31 69.09,292.47 69.37,291.60 69.65,290.70 69.93,289.77 70.22,288.81 70.50,287.83 70.78,286.82 71.06,285.80 71.34,284.76 71.63,283.71 71.91,282.65 72.19,281.59 72.47,280.52 72.75,279.47 73.04,278.42 73.32,277.38 73.60,276.36 73.88,275.37 74.16,274.41 74.45,273.48 74.73,272.58 75.01,271.74 75.29,270.94 75.57,270.19 75.86,269.50 76.14,268.87 76.42,268.31 76.70,267.81 76.98,267.38 77.27,267.03 77.55,266.76 77.83,266.56 78.11,266.44 78.39,266.40 78.68,266.44 78.96,266.56 79.24,266.76 79.52,267.03 79.80,267.38 80.09,267.81 80.37,268.31 80.65,268.87 80.93,269.50 81.21,270.19 81.50,270.94 81.78,271.74 82.06,272.58 82.34,273.48 82.62,274.41 82.91,275.37 83.19,276.36 83.47,277.38 83.75,278.42 84.03,279.47 84.32,280.52 84.60,281.59 84.88,282.65 85.16,283.71 85.44,284.76 85.73,285.80 86.01,286.82 86.29,287.83 86.57,288.81 86.85,289.77 87.14,290.70 87.42,291.60 87.70,292.47 87.98,293.31 88.26,294.11 88.55,294.88 88.83,295.62 89.11,296.32 89.39,296.98 89.67,297.61 89.96,298.20 90.24,298.76 90.52,299.28 90.80,299.78 91.08,300.23 91.37,300.66 91.65,301.06 91.93,301.43 92.21,301.77 92.49,302.08 92.78,302.37 93.06,302.64 93.34,302.88 93.62,303.10 93.90,303.30 94.19,303.49 94.47,303.65 94.75,303.81 95.03,303.94 95.31,304.06 95.60,304.17 95.88,304.27 96.16,304.36 96.44,304.44 96.72,304.51 97.01,304.57 97.29,304.63 97.57,304.67 97.85,304.72 98.13,304.76 98.42,304.79 98.70,304.82 98.98,304.84 99.26,304.87 99.54,304.88 99.83,304.90 100.11,304.92 100.39,304.93 100.67,304.94 100.95,304.95 101.24,304.96 101.52,304.96 101.80,304.97 102.08,304.97 102.36,304.98 102.65,304.98 102.93,304.98 103.21,304.99 103.49,304.99 103.77,304.99 104.06,304.99 104.34,304.99" fill="none" stroke="#cc33ee" stroke-width="1.05" stroke-linejoin="round"/>
<polyline points="56.96,304.98 57.24,304.98 57.53,304.98 57.81,304.98 58.09,304.98 58.37,304.98 58.65,304.97 58.94,304.97 59.22,304.97 59.50,304.96 59.78,304.96 60.06,304.96 60.35,304.95 60.63,304.95 60.91,304.94 61.19,304.94 61.47,304.93 61.76,304.92 62.04,304.92 62.32,304.91 62.60,304.90 62.88,304.89 63.17,304.88 63.45,304.87 63.73,304.86 64.01,304.85 64.29,304.83 64.58,304.82 64.86,304.80 65.14,304.79 65.42,304.77 65.70,304.75 65.99,304.73 66.27,304.70 66.55,304.68 66.83,304.65 67.11,304.62 67.40,304.59 67.68,304.56 67.96,304.52 68.24,304.48 68.52,304.44 68.81,304.40 69.09,304.35 69.37,304.30 69.65,304.24 69.93,304.19 70.22,304.12 70.50,304.06 70.78,303.99 71.06,303.91 71.34,303.83 71.63,303.75 71.91,303.65 72.19,303.56 72.47,303.45 72.75,303.35 73.04,303.23 73.32,303.11 73.60,302.98 73.88,302.84 74.16,302.69 74.45,302.54 74.73,302.37 75.01,302.20 75.29,302.02 75.57,301.83 75.86,301.62 76.14,301.41 76.42,301.18 76.70,300.94 76.98,300.69 77.27,300.43 77.55,300.16 77.83,299.87 78.11,299.56 78.39,299.24 78.68,298.91 78.96,298.56 79.24,298.19 79.52,297.81 79.80,297.41 80.09,296.99 80.37,296.56 80.65,296.10 80.93,295.63 81.21,295.13 81.50,294.62 81.78,294.09 82.06,293.53 82.34,292.96 82.62,292.36 82.91,291.74 83.19,291.09 83.47,290.43 83.75,289.74 84.03,289.03 84.32,288.29 84.60,287.53 84.88,286.75 85.16,285.94 85.44,285.10 85.73,284.24 86.01,283.36 86.29,282.45 86.57,281.52 86.85,280.56 87.14,279.58 87.42,278.58 87.70,277.54 87.98,276.49 88.26,275.41 88.55,274.31 88.83,273.18 89.11,272.04 89.39,270.87 89.67,269.68 89.96,268.46 90.24,267.23 90.52,265.98 90.80,264.71 91.08,263.42 91.37,262.12 91.65,260.80 91.93,259.46 92.21,258.11 92.49,256.75 92.78,255.38 93.06,254.00 93.34,252.60 93.62,251.20 93.90,249.80 94.19,248.39 94.47,246.97 94.75,245.56 95.03,244.15 95.31,242.73 95.60,241.32 95.88,239.92 96.16,238.52 96.44,237.13 96.72,235.75 97.01,234.38 97.29,233.03 97.57,231.69 97.85,230.37 98.13,229.07 98.42,227.79 98.70,226.53 98.98,225.29 99.26,224.09 99.54,222.91 99.83,221.76 100.11,220.65 100.39,219.56 100.67,218.52 100.95,217.50 101.24,216.53 101.52,215.60 101.80,214.71 102.08,213.86 102.36,213.05 102.65,212.30 102.93,211.58 103.21,210.92 103.49,210.30 103.77,209.74 104.06,209.22 104.34,208.76 104.62,208.35 104.90,207.99 105.18,207.69 105.47,207.44 105.75,207.25 106.03,207.11 106.31,207.03 106.59,207.00 106.88,207.03 107.16,207.11 107.44,207.25 107.72,207.44 108.00,207.69 108.29,207.99 108.57,208.35 108.85,208.76 109.13,209.22 109.41,209.74 109.70,210.30 109.98,210.92 110.26,211.58 110.54,212.30 110.82,213.05 111.11,213.86 111.39,214.71 111.67,215.60 111.95,216.53 112.23,217.50 112.52,218.52 112.80,219.56 113.08,220.65 113.36,221.76 113.64,222.91 113.93,224.09 114.21,225.29 114.49,226.53 114.77,227.79 115.05,229.07 115.34,230.37 115.62,231.69 115.90,233.03 116.18,234.38 116.46,235.75 116.75,237.13 117.03,238.52 117.31,239.92 117.59,241.32 117.87,242.73 118.16,244.15 118.44,245.56 118.72,246.97 119.00,248.39 119.28,249.80 119.57,251.20 119.85,252.60 120.13,254.00 120.41,255.38 120.69,256.75 120.98,258.11 121.26,259.46 121.54,260.80 121.82,262.12 122.10,263.42 122.39,264.71 122.67,265.98 122.95,267.23 123.23,268.46 123.51,269.68 123.80,270.87 124.08,272.04 124.36,273.18 124.64,274.31 124.92,275.41 125.21,276.49 125.49,277.54 125.77,278.58 126.05,279.58 126.33,280.56 126.62,281.52 126.90,282.45 127.18,283.36 127.46,284.24 127.74,285.10 128.03,285.94 128.31,286.75 128.59,287.53 128.87,288.29 129.15,289.03 129.44,289.74 129.72,290.43 130.00,291.09 130.28,291.74 130.56,292.36 130.85,292.96 131.13,293.53 131.41,294.09 131.69,294.62 131.97,295.13 132.26,295.63 132.54,296.10 132.82,296.56 133.10,296.99 133.38,297.41 133.67,297.81 133.95,298.19 134.23,298.56 134.51,298.91 134.79,299.24 135.08,299.56 135.36,299.87 135.64,300.16 135.92,300.43 136.20,300.69 136.49,300.94 136.77,301.18 137.05,301.41 137.33,301.62 137.61,301.83 137.90,302.02 138.18,302.20 138.46,302.37 138.74,302.54 139.02,302.69 139.31,302.84 139.59,302.98 139.87,303.11 140.15,303.23 140.43,303.35 140.72,303.45 141.00,303.56 141.28,303.65 141.56,303.75 141.84,303.83 142.13,303.91 142.41,303.99 142.69,304.06 142.97,304.12 143.25,304.19 143.54,304.24 143.82,304.30 144.10,304.35 144.38,304.40 144.66,304.44 144.95,304.48 145.23,304.52 145.51,304.56 145.79,304.59 146.07,304.62 146.36,304.65 146.64,304.68 146.92,304.70 147.20,304.73 147.48,304.75 147.77,304.77 148.05,304.79 148.33,304.80 148.61,304.82 148.89,304.83 149.18,304.85 149.46,304.86 149.74,304.87 150.02,304.88 150.30,304.89 150.59,304.90 150.87,304.91 151.15,304.92 151.43,304.92 151.71,304.93 152.00,304.94 152.28,304.94 152.56,304.95 152.84,304.95 153.12,304.96 153.41,304.96 153.69,304.96 153.97,304.97 154.25,304.97 154.53,304.97 154.82,304.98 155.10,304.98 155.38,304.98 155.66,304.98 155.94,304.98 156.23,304.98" fill="none" stroke="#5577ff" stroke-width="1.05" stroke-linejoin="round"/>
<polyline points="87.42,305.00 87.70,305.00 87.98,305.00 88.26,305.00 88.55,305.00 88.83,305.00 89.11,305.00 89.39,305.00 89.67,305.00 89.96,305.00 90.24,305.00 90.52,305.00 90.80,305.00 91.08,305.00 91.37,305.00 91.65,305.00 91.93,305.00 92.21,305.00 92.49,305.00 92.78,305.00 93.06,305.00 93.34,305.00 93.62,305.00 93.90,305.00 94.19,305.00 94.47,305.00 94.75,305.00 95.03,305.00 95.31,305.00 95.60,305.00 95.88,305.00 96.16,305.00 96.44,305.00 96.72,305.00 97.01,305.00 97.29,305.00 97.57,305.00 97.85,305.00 98.13,305.00 98.42,305.00 98.70,305.00 98.98,305.00 99.26,305.00 99.54,305.00 99.83,305.00 100.11,305.00 100.39,305.00 100.67,305.00 100.95,304.99 101.24,304.99 101.52,304.99 101.80,304.99 102.08,304.99 102.36,304.99 102.65,304.99 102.93,304.99 103.21,304.98 103.49,304.98 103.77,304.98 104.06,304.98 104.34,304.97 104.62,304.97 104.90,304.96 105.18,304.96 105.47,304.95 105.75,304.95 106.03,304.94 106.31,304.93 106.59,304.93 106.88,304.92 107.16,304.91 107.44,304.90 107.72,304.88 108.00,304.87 108.29,304.85 108.57,304.83 108.85,304.81 109.13,304.79 109.41,304.77 109.70,304.74 109.98,304.71 110.26,304.68 110.54,304.65 110.82,304.61 111.11,304.56 111.39,304.52 111.67,304.47 111.95,304.41 112.23,304.35 112.52,304.28 112.80,304.21 113.08,304.13 113.36,304.05 113.64,303.96 113.93,303.85 114.21,303.75 114.49,303.63 114.77,303.50 115.05,303.37 115.34,303.22 115.62,303.06 115.90,302.89 116.18,302.71 116.46,302.51 116.75,302.31 117.03,302.08 117.31,301.85 117.59,301.59 117.87,301.32 118.16,301.04 118.44,300.73 118.72,300.41 119.00,300.07 119.28,299.71 119.57,299.33 119.85,298.93 120.13,298.50 120.41,298.06 120.69,297.59 120.98,297.11 121.26,296.59 121.54,296.06 121.82,295.50 122.10,294.92 122.39,294.31 122.67,293.68 122.95,293.03 123.23,292.35 123.51,291.65 123.80,290.93 124.08,290.18 124.36,289.42 124.64,288.63 124.92,287.82 125.21,286.99 125.49,286.13 125.77,285.27 126.05,284.38 126.33,283.48 126.62,282.56 126.90,281.64 127.18,280.70 127.46,279.75 127.74,278.79 128.03,277.82 128.31,276.86 128.59,275.89 128.87,274.92 129.15,273.95 129.44,272.99 129.72,272.03 130.00,271.08 130.28,270.14 130.56,269.22 130.85,268.32 131.13,267.43 131.41,266.56 131.69,265.72 131.97,264.91 132.26,264.12 132.54,263.36 132.82,262.64 133.10,261.95 133.38,261.30 133.67,260.69 133.95,260.12 134.23,259.59 134.51,259.11 134.79,258.68 135.08,258.29 135.36,257.95 135.64,257.66 135.92,257.42 136.20,257.24 136.49,257.11 136.77,257.03 137.05,257.00 137.33,257.01 137.61,257.05 137.90,257.12 138.18,257.22 138.46,257.34 138.74,257.49 139.02,257.66 139.31,257.86 139.59,258.09 139.87,258.34 140.15,258.62 140.43,258.92 140.72,259.25 141.00,259.59 141.28,259.97 141.56,260.36 141.84,260.78 142.13,261.21 142.41,261.67 142.69,262.14 142.97,262.64 143.25,263.15 143.54,263.68 143.82,264.23 144.10,264.79 144.38,265.37 144.66,265.96 144.95,266.56 145.23,267.18 145.51,267.81 145.79,268.45 146.07,269.09 146.36,269.75 146.64,270.41 146.92,271.08 147.20,271.76 147.48,272.44 147.77,273.12 148.05,273.81 148.33,274.50 148.61,275.19 148.89,275.89 149.18,276.58 149.46,277.27 149.74,277.96 150.02,278.65 150.30,279.34 150.59,280.02 150.87,280.70 151.15,281.37 151.43,282.04 151.71,282.70 152.00,283.35 152.28,284.00 152.56,284.64 152.84,285.27 153.12,285.89 153.41,286.50 153.69,287.10 153.97,287.70 154.25,288.28 154.53,288.85 154.82,289.42 155.10,289.97 155.38,290.51 155.66,291.04 155.94,291.55 156.23,292.06 156.51,292.55 156.79,293.03 157.07,293.50 157.35,293.96 157.64,294.40 157.92,294.83 158.20,295.25 158.48,295.66 158.76,296.06 159.05,296.44 159.33,296.82 159.61,297.18 159.89,297.53 160.17,297.86 160.46,298.19 160.74,298.50 161.02,298.81 161.30,299.10 161.58,299.38 161.87,299.65 162.15,299.92 162.43,300.17 162.71,300.41 162.99,300.64 163.28,300.86 163.56,301.08 163.84,301.28 164.12,301.48 164.40,301.67 164.69,301.85 164.97,302.02 165.25,302.18 165.53,302.34 165.81,302.49 166.10,302.63 166.38,302.76 166.66,302.89 166.94,303.01 167.22,303.13 167.51,303.24 167.79,303.35 168.07,303.44 168.35,303.54 168.63,303.63 168.92,303.71 169.20,303.79 169.48,303.87 169.76,303.94 170.04,304.01 170.33,304.07 170.61,304.13 170.89,304.19 171.17,304.24 171.45,304.29 171.74,304.34 172.02,304.39 172.30,304.43 172.58,304.47 172.86,304.50 173.15,304.54 173.43,304.57 173.71,304.60 173.99,304.63 174.27,304.66 174.56,304.68 174.84,304.70 175.12,304.73 175.40,304.75 175.68,304.77 175.97,304.78 176.25,304.80 176.53,304.81 176.81,304.83 177.09,304.84 177.38,304.85 177.66,304.87 177.94,304.88 178.22,304.89 178.50,304.90 178.79,304.90 179.07,304.91 179.35,304.92 179.63,304.93 179.91,304.93 180.20,304.94 180.48,304.94 180.76,304.95 181.04,304.95 181.32,304.96 181.61,304.96 181.89,304.96 182.17,304.97 182.45,304.97 182.73,304.97 183.02,304.97 183.30,304.98 183.58,304.98 183.86,304.98 184.14,304.98 184.43,304.98 184.71,304.99 184.99,304.99 185.27,304.99 185.55,304.99 185.84,304.99 186.12,304.99 186.40,304.99 186.68,304.99" fill="none" stroke="#ff3838" stroke-width="1.05" stroke-linejoin="round"/>
<polyline points="143.54,305.00 143.82,305.00 144.10,305.00 144.38,305.00 144.66,305.00 144.95,304.99 145.23,304.99 145.51,304.99 145.79,304.99 146.07,304.99 146.36,304.99 146.64,304.98 146.92,304.98 147.20,304.98 147.48,304.97 147.77,304.97 148.05,304.96 148.33,304.96 148.61,304.95 148.89,304.94 149.18,304.93 149.46,304.92 149.74,304.90 150.02,304.89 150.30,304.87 150.59,304.85 150.87,304.83 151.15,304.80 151.43,304.77 151.71,304.74 152.00,304.70 152.28,304.66 152.56,304.61 152.84,304.56 153.12,304.50 153.41,304.44 153.69,304.37 153.97,304.29 154.25,304.20 154.53,304.11 154.82,304.00 155.10,303.89 155.38,303.77 155.66,303.63 155.94,303.49 156.23,303.33 156.51,303.16 156.79,302.98 157.07,302.78 157.35,302.58 157.64,302.35 157.92,302.12 158.20,301.87 158.48,301.61 158.76,301.33 159.05,301.04 159.33,300.74 159.61,300.43 159.89,300.10 160.17,299.76 160.46,299.41 160.74,299.05 161.02,298.68 161.30,298.30 161.58,297.92 161.87,297.53 162.15,297.14 162.43,296.75 162.71,296.36 162.99,295.97 163.28,295.58 163.56,295.20 163.84,294.83 164.12,294.46 164.40,294.11 164.69,293.77 164.97,293.45 165.25,293.14 165.53,292.86 165.81,292.59 166.10,292.35 166.38,292.13 166.66,291.94 166.94,291.78 167.22,291.64 167.51,291.54 167.79,291.46 168.07,291.42 168.35,291.40 168.63,291.42 168.92,291.46 169.20,291.54 169.48,291.64 169.76,291.78 170.04,291.94 170.33,292.13 170.61,292.35 170.89,292.59 171.17,292.86 171.45,293.14 171.74,293.45 172.02,293.77 172.30,294.11 172.58,294.46 172.86,294.83 173.15,295.20 173.43,295.58 173.71,295.97 173.99,296.36 174.27,296.75 174.56,297.14 174.84,297.53 175.12,297.92 175.40,298.30 175.68,298.68 175.97,299.05 176.25,299.41 176.53,299.76 176.81,300.10 177.09,300.43 177.38,300.74 177.66,301.04 177.94,301.33 178.22,301.61 178.50,301.87 178.79,302.12 179.07,302.35 179.35,302.58 179.63,302.78 179.91,302.98 180.20,303.16 180.48,303.33 180.76,303.49 181.04,303.63 181.32,303.77 181.61,303.89 181.89,304.00 182.17,304.11 182.45,304.20 182.73,304.29 183.02,304.37 183.30,304.44 183.58,304.50 183.86,304.56 184.14,304.61 184.43,304.66 184.71,304.70 184.99,304.74 185.27,304.77 185.55,304.80 185.84,304.83 186.12,304.85 186.40,304.87 186.68,304.89 186.96,304.90 187.25,304.92 187.53,304.93 187.81,304.94 188.09,304.95 188.37,304.96 188.66,304.96 188.94,304.97 189.22,304.97 189.50,304.98 189.78,304.98 190.07,304.98 190.35,304.99 190.63,304.99 190.91,304.99 191.19,304.99 191.48,304.99 191.76,304.99 192.04,305.00 192.32,305.00 192.60,305.00 192.89,305.00 193.17,305.00" fill="none" stroke="#ff9922" stroke-width="1.05" stroke-linejoin="round"/>
<line x1="60.91" y1="305.00" x2="183.58" y2="305.00" stroke="#ff8833" stroke-width="1.3"/>
<g clip-path="url(#clipd)">
<circle cx="31.30" cy="304.70" r="1.45" fill="#d4d4d4" stroke="#8a8a8a" stroke-width="0.8"/>
<circle cx="33.48" cy="304.70" r="1.45" fill="#d4d4d4" stroke="#8a8a8a" stroke-width="0.8"/>
<circle cx="36.62" cy="304.71" r="1.45" fill="#d4d4d4" stroke="#8a8a8a" stroke-width="0.8"/>
<circle cx="38.41" cy="304.72" r="1.45" fill="#d4d4d4" stroke="#8a8a8a" stroke-width="0.8"/>
<circle cx="40.27" cy="304.73" r="1.45" fill="#d4d4d4" stroke="#8a8a8a" stroke-width="0.8"/>
<circle cx="42.16" cy="304.73" r="1.45" fill="#d4d4d4" stroke="#8a8a8a" stroke-width="0.8"/>
<circle cx="44.01" cy="304.73" r="1.45" fill="#d4d4d4" stroke="#8a8a8a" stroke-width="0.8"/>
<circle cx="45.78" cy="304.73" r="1.45" fill="#d4d4d4" stroke="#8a8a8a" stroke-width="0.8"/>
<circle cx="48.83" cy="304.71" r="1.45" fill="#d4d4d4" stroke="#8a8a8a" stroke-width="0.8"/>
<circle cx="50.95" cy="304.69" r="1.45" fill="#d4d4d4" stroke="#8a8a8a" stroke-width="0.8"/>
<circle cx="53.01" cy="304.66" r="1.45" fill="#d4d4d4" stroke="#8a8a8a" stroke-width="0.8"/>
<circle cx="54.93" cy="304.52" r="1.45" fill="#d4d4d4" stroke="#8a8a8a" stroke-width="0.8"/>
<circle cx="56.81" cy="304.08" r="1.45" fill="#d4d4d4" stroke="#8a8a8a" stroke-width="0.8"/>
<circle cx="58.57" cy="303.33" r="1.45" fill="#d4d4d4" stroke="#8a8a8a" stroke-width="0.8"/>
<circle cx="60.10" cy="302.30" r="1.45" fill="#d4d4d4" stroke="#8a8a8a" stroke-width="0.8"/>
<circle cx="61.43" cy="301.04" r="1.45" fill="#d4d4d4" stroke="#8a8a8a" stroke-width="0.8"/>
<circle cx="62.61" cy="299.46" r="1.45" fill="#d4d4d4" stroke="#8a8a8a" stroke-width="0.8"/>
<circle cx="63.60" cy="297.85" r="1.45" fill="#d4d4d4" stroke="#8a8a8a" stroke-width="0.8"/>
<circle cx="64.60" cy="295.92" r="1.45" fill="#d4d4d4" stroke="#8a8a8a" stroke-width="0.8"/>
<circle cx="65.35" cy="294.32" r="1.45" fill="#d4d4d4" stroke="#8a8a8a" stroke-width="0.8"/>
<circle cx="66.10" cy="292.60" r="1.45" fill="#d4d4d4" stroke="#8a8a8a" stroke-width="0.8"/>
<circle cx="66.85" cy="290.78" r="1.45" fill="#d4d4d4" stroke="#8a8a8a" stroke-width="0.8"/>
<circle cx="67.60" cy="288.85" r="1.45" fill="#d4d4d4" stroke="#8a8a8a" stroke-width="0.8"/>
<circle cx="68.35" cy="286.79" r="1.45" fill="#d4d4d4" stroke="#8a8a8a" stroke-width="0.8"/>
<circle cx="69.10" cy="284.60" r="1.45" fill="#d4d4d4" stroke="#8a8a8a" stroke-width="0.8"/>
<circle cx="69.60" cy="283.03" r="1.45" fill="#d4d4d4" stroke="#8a8a8a" stroke-width="0.8"/>
<circle cx="70.10" cy="281.35" r="1.45" fill="#d4d4d4" stroke="#8a8a8a" stroke-width="0.8"/>
<circle cx="70.59" cy="279.62" r="1.45" fill="#d4d4d4" stroke="#8a8a8a" stroke-width="0.8"/>
<circle cx="71.09" cy="277.87" r="1.45" fill="#d4d4d4" stroke="#8a8a8a" stroke-width="0.8"/>
<circle cx="71.59" cy="276.15" r="1.45" fill="#d4d4d4" stroke="#8a8a8a" stroke-width="0.8"/>
<circle cx="72.10" cy="274.50" r="1.45" fill="#d4d4d4" stroke="#8a8a8a" stroke-width="0.8"/>
<circle cx="72.61" cy="272.88" r="1.45" fill="#d4d4d4" stroke="#8a8a8a" stroke-width="0.8"/>
<circle cx="73.13" cy="271.24" r="1.45" fill="#d4d4d4" stroke="#8a8a8a" stroke-width="0.8"/>
<circle cx="73.65" cy="269.63" r="1.45" fill="#d4d4d4" stroke="#8a8a8a" stroke-width="0.8"/>
<circle cx="74.43" cy="267.36" r="1.45" fill="#d4d4d4" stroke="#8a8a8a" stroke-width="0.8"/>
<circle cx="75.20" cy="265.40" r="1.45" fill="#d4d4d4" stroke="#8a8a8a" stroke-width="0.8"/>
<circle cx="75.96" cy="263.78" r="1.45" fill="#d4d4d4" stroke="#8a8a8a" stroke-width="0.8"/>
<circle cx="76.96" cy="262.03" r="1.45" fill="#d4d4d4" stroke="#8a8a8a" stroke-width="0.8"/>
<circle cx="77.95" cy="260.68" r="1.45" fill="#d4d4d4" stroke="#8a8a8a" stroke-width="0.8"/>
<circle cx="79.20" cy="259.53" r="1.45" fill="#d4d4d4" stroke="#8a8a8a" stroke-width="0.8"/>
<circle cx="80.95" cy="258.85" r="1.45" fill="#d4d4d4" stroke="#8a8a8a" stroke-width="0.8"/>
<circle cx="82.70" cy="259.00" r="1.45" fill="#d4d4d4" stroke="#8a8a8a" stroke-width="0.8"/>
<circle cx="84.45" cy="259.43" r="1.45" fill="#d4d4d4" stroke="#8a8a8a" stroke-width="0.8"/>
<circle cx="86.19" cy="259.61" r="1.45" fill="#d4d4d4" stroke="#8a8a8a" stroke-width="0.8"/>
<circle cx="87.99" cy="259.00" r="1.45" fill="#d4d4d4" stroke="#8a8a8a" stroke-width="0.8"/>
<circle cx="89.34" cy="257.98" r="1.45" fill="#d4d4d4" stroke="#8a8a8a" stroke-width="0.8"/>
<circle cx="90.51" cy="256.45" r="1.45" fill="#d4d4d4" stroke="#8a8a8a" stroke-width="0.8"/>
<circle cx="91.21" cy="254.89" r="1.45" fill="#d4d4d4" stroke="#8a8a8a" stroke-width="0.8"/>
<circle cx="91.83" cy="252.99" r="1.45" fill="#d4d4d4" stroke="#8a8a8a" stroke-width="0.8"/>
<circle cx="92.30" cy="251.30" r="1.45" fill="#d4d4d4" stroke="#8a8a8a" stroke-width="0.8"/>
<circle cx="92.80" cy="249.32" r="1.45" fill="#d4d4d4" stroke="#8a8a8a" stroke-width="0.8"/>
<circle cx="93.30" cy="247.09" r="1.45" fill="#d4d4d4" stroke="#8a8a8a" stroke-width="0.8"/>
<circle cx="93.80" cy="244.71" r="1.45" fill="#d4d4d4" stroke="#8a8a8a" stroke-width="0.8"/>
<circle cx="94.30" cy="242.30" r="1.45" fill="#d4d4d4" stroke="#8a8a8a" stroke-width="0.8"/>
<circle cx="94.63" cy="240.68" r="1.45" fill="#d4d4d4" stroke="#8a8a8a" stroke-width="0.8"/>
<circle cx="94.97" cy="239.01" r="1.45" fill="#d4d4d4" stroke="#8a8a8a" stroke-width="0.8"/>
<circle cx="95.30" cy="237.32" r="1.45" fill="#d4d4d4" stroke="#8a8a8a" stroke-width="0.8"/>
<circle cx="95.63" cy="235.61" r="1.45" fill="#d4d4d4" stroke="#8a8a8a" stroke-width="0.8"/>
<circle cx="95.97" cy="233.90" r="1.45" fill="#d4d4d4" stroke="#8a8a8a" stroke-width="0.8"/>
<circle cx="96.30" cy="232.20" r="1.45" fill="#d4d4d4" stroke="#8a8a8a" stroke-width="0.8"/>
<circle cx="96.62" cy="230.52" r="1.45" fill="#d4d4d4" stroke="#8a8a8a" stroke-width="0.8"/>
<circle cx="96.93" cy="228.83" r="1.45" fill="#d4d4d4" stroke="#8a8a8a" stroke-width="0.8"/>
<circle cx="97.24" cy="227.14" r="1.45" fill="#d4d4d4" stroke="#8a8a8a" stroke-width="0.8"/>
<circle cx="97.56" cy="225.46" r="1.45" fill="#d4d4d4" stroke="#8a8a8a" stroke-width="0.8"/>
<circle cx="97.91" cy="223.78" r="1.45" fill="#d4d4d4" stroke="#8a8a8a" stroke-width="0.8"/>
<circle cx="98.30" cy="222.10" r="1.45" fill="#d4d4d4" stroke="#8a8a8a" stroke-width="0.8"/>
<circle cx="98.74" cy="220.36" r="1.45" fill="#d4d4d4" stroke="#8a8a8a" stroke-width="0.8"/>
<circle cx="99.22" cy="218.54" r="1.45" fill="#d4d4d4" stroke="#8a8a8a" stroke-width="0.8"/>
<circle cx="99.73" cy="216.72" r="1.45" fill="#d4d4d4" stroke="#8a8a8a" stroke-width="0.8"/>
<circle cx="100.26" cy="214.99" r="1.45" fill="#d4d4d4" stroke="#8a8a8a" stroke-width="0.8"/>
<circle cx="100.78" cy="213.42" r="1.45" fill="#d4d4d4" stroke="#8a8a8a" stroke-width="0.8"/>
<circle cx="101.56" cy="211.55" r="1.45" fill="#d4d4d4" stroke="#8a8a8a" stroke-width="0.8"/>
<circle cx="102.61" cy="209.89" r="1.45" fill="#d4d4d4" stroke="#8a8a8a" stroke-width="0.8"/>
<circle cx="103.91" cy="208.56" r="1.45" fill="#d4d4d4" stroke="#8a8a8a" stroke-width="0.8"/>
<circle cx="105.31" cy="207.29" r="1.45" fill="#d4d4d4" stroke="#8a8a8a" stroke-width="0.8"/>
<circle cx="106.79" cy="206.53" r="1.45" fill="#d4d4d4" stroke="#8a8a8a" stroke-width="0.8"/>
<circle cx="108.46" cy="206.70" r="1.45" fill="#d4d4d4" stroke="#8a8a8a" stroke-width="0.8"/>
<circle cx="109.91" cy="208.00" r="1.45" fill="#d4d4d4" stroke="#8a8a8a" stroke-width="0.8"/>
<circle cx="110.91" cy="209.62" r="1.45" fill="#d4d4d4" stroke="#8a8a8a" stroke-width="0.8"/>
<circle cx="111.83" cy="211.52" r="1.45" fill="#d4d4d4" stroke="#8a8a8a" stroke-width="0.8"/>
<circle cx="112.69" cy="213.38" r="1.45" fill="#d4d4d4" stroke="#8a8a8a" stroke-width="0.8"/>
<circle cx="113.67" cy="215.57" r="1.45" fill="#d4d4d4" stroke="#8a8a8a" stroke-width="0.8"/>
<circle cx="114.36" cy="217.22" r="1.45" fill="#d4d4d4" stroke="#8a8a8a" stroke-width="0.8"/>
<circle cx="115.07" cy="219.04" r="1.45" fill="#d4d4d4" stroke="#8a8a8a" stroke-width="0.8"/>
<circle cx="115.76" cy="221.03" r="1.45" fill="#d4d4d4" stroke="#8a8a8a" stroke-width="0.8"/>
<circle cx="116.44" cy="223.25" r="1.45" fill="#d4d4d4" stroke="#8a8a8a" stroke-width="0.8"/>
<circle cx="117.12" cy="225.84" r="1.45" fill="#d4d4d4" stroke="#8a8a8a" stroke-width="0.8"/>
<circle cx="117.81" cy="228.67" r="1.45" fill="#d4d4d4" stroke="#8a8a8a" stroke-width="0.8"/>
<circle cx="118.50" cy="231.60" r="1.45" fill="#d4d4d4" stroke="#8a8a8a" stroke-width="0.8"/>
<circle cx="119.16" cy="234.47" r="1.45" fill="#d4d4d4" stroke="#8a8a8a" stroke-width="0.8"/>
<circle cx="119.80" cy="237.11" r="1.45" fill="#d4d4d4" stroke="#8a8a8a" stroke-width="0.8"/>
<circle cx="120.39" cy="239.42" r="1.45" fill="#d4d4d4" stroke="#8a8a8a" stroke-width="0.8"/>
<circle cx="120.94" cy="241.56" r="1.45" fill="#d4d4d4" stroke="#8a8a8a" stroke-width="0.8"/>
<circle cx="121.46" cy="243.56" r="1.45" fill="#d4d4d4" stroke="#8a8a8a" stroke-width="0.8"/>
<circle cx="121.96" cy="245.41" r="1.45" fill="#d4d4d4" stroke="#8a8a8a" stroke-width="0.8"/>
<circle cx="122.45" cy="247.10" r="1.45" fill="#d4d4d4" stroke="#8a8a8a" stroke-width="0.8"/>
<circle cx="123.20" cy="249.30" r="1.45" fill="#d4d4d4" stroke="#8a8a8a" stroke-width="0.8"/>
<circle cx="123.93" cy="251.08" r="1.45" fill="#d4d4d4" stroke="#8a8a8a" stroke-width="0.8"/>
<circle cx="124.88" cy="252.84" r="1.45" fill="#d4d4d4" stroke="#8a8a8a" stroke-width="0.8"/>
<circle cx="126.20" cy="254.20" r="1.45" fill="#d4d4d4" stroke="#8a8a8a" stroke-width="0.8"/>
<circle cx="128.06" cy="254.38" r="1.45" fill="#d4d4d4" stroke="#8a8a8a" stroke-width="0.8"/>
<circle cx="129.82" cy="253.88" r="1.45" fill="#d4d4d4" stroke="#8a8a8a" stroke-width="0.8"/>
<circle cx="131.48" cy="253.51" r="1.45" fill="#d4d4d4" stroke="#8a8a8a" stroke-width="0.8"/>
<circle cx="133.36" cy="253.01" r="1.45" fill="#d4d4d4" stroke="#8a8a8a" stroke-width="0.8"/>
<circle cx="135.12" cy="252.64" r="1.45" fill="#d4d4d4" stroke="#8a8a8a" stroke-width="0.8"/>
<circle cx="136.77" cy="252.57" r="1.45" fill="#d4d4d4" stroke="#8a8a8a" stroke-width="0.8"/>
<circle cx="138.62" cy="253.12" r="1.45" fill="#d4d4d4" stroke="#8a8a8a" stroke-width="0.8"/>
<circle cx="140.06" cy="254.31" r="1.45" fill="#d4d4d4" stroke="#8a8a8a" stroke-width="0.8"/>
<circle cx="141.21" cy="255.71" r="1.45" fill="#d4d4d4" stroke="#8a8a8a" stroke-width="0.8"/>
<circle cx="142.30" cy="257.40" r="1.45" fill="#d4d4d4" stroke="#8a8a8a" stroke-width="0.8"/>
<circle cx="143.04" cy="258.91" r="1.45" fill="#d4d4d4" stroke="#8a8a8a" stroke-width="0.8"/>
<circle cx="143.74" cy="260.62" r="1.45" fill="#d4d4d4" stroke="#8a8a8a" stroke-width="0.8"/>
<circle cx="144.42" cy="262.43" r="1.45" fill="#d4d4d4" stroke="#8a8a8a" stroke-width="0.8"/>
<circle cx="145.10" cy="264.20" r="1.45" fill="#d4d4d4" stroke="#8a8a8a" stroke-width="0.8"/>
<circle cx="145.78" cy="265.89" r="1.45" fill="#d4d4d4" stroke="#8a8a8a" stroke-width="0.8"/>
<circle cx="146.46" cy="267.56" r="1.45" fill="#d4d4d4" stroke="#8a8a8a" stroke-width="0.8"/>
<circle cx="147.13" cy="269.28" r="1.45" fill="#d4d4d4" stroke="#8a8a8a" stroke-width="0.8"/>
<circle cx="147.80" cy="271.10" r="1.45" fill="#d4d4d4" stroke="#8a8a8a" stroke-width="0.8"/>
<circle cx="148.47" cy="273.09" r="1.45" fill="#d4d4d4" stroke="#8a8a8a" stroke-width="0.8"/>
<circle cx="149.14" cy="275.20" r="1.45" fill="#d4d4d4" stroke="#8a8a8a" stroke-width="0.8"/>
<circle cx="149.82" cy="277.31" r="1.45" fill="#d4d4d4" stroke="#8a8a8a" stroke-width="0.8"/>
<circle cx="150.50" cy="279.30" r="1.45" fill="#d4d4d4" stroke="#8a8a8a" stroke-width="0.8"/>
<circle cx="151.20" cy="281.18" r="1.45" fill="#d4d4d4" stroke="#8a8a8a" stroke-width="0.8"/>
<circle cx="151.90" cy="283.01" r="1.45" fill="#d4d4d4" stroke="#8a8a8a" stroke-width="0.8"/>
<circle cx="152.60" cy="284.70" r="1.45" fill="#d4d4d4" stroke="#8a8a8a" stroke-width="0.8"/>
<circle cx="153.30" cy="286.20" r="1.45" fill="#d4d4d4" stroke="#8a8a8a" stroke-width="0.8"/>
<circle cx="154.20" cy="287.85" r="1.45" fill="#d4d4d4" stroke="#8a8a8a" stroke-width="0.8"/>
<circle cx="155.32" cy="289.49" r="1.45" fill="#d4d4d4" stroke="#8a8a8a" stroke-width="0.8"/>
<circle cx="156.45" cy="290.79" r="1.45" fill="#d4d4d4" stroke="#8a8a8a" stroke-width="0.8"/>
<circle cx="157.77" cy="291.91" r="1.45" fill="#d4d4d4" stroke="#8a8a8a" stroke-width="0.8"/>
<circle cx="159.41" cy="292.35" r="1.45" fill="#d4d4d4" stroke="#8a8a8a" stroke-width="0.8"/>
<circle cx="161.13" cy="292.12" r="1.45" fill="#d4d4d4" stroke="#8a8a8a" stroke-width="0.8"/>
<circle cx="162.90" cy="291.60" r="1.45" fill="#d4d4d4" stroke="#8a8a8a" stroke-width="0.8"/>
<circle cx="164.68" cy="290.78" r="1.45" fill="#d4d4d4" stroke="#8a8a8a" stroke-width="0.8"/>
<circle cx="166.40" cy="289.86" r="1.45" fill="#d4d4d4" stroke="#8a8a8a" stroke-width="0.8"/>
<circle cx="168.00" cy="289.29" r="1.45" fill="#d4d4d4" stroke="#8a8a8a" stroke-width="0.8"/>
<circle cx="169.70" cy="289.20" r="1.45" fill="#d4d4d4" stroke="#8a8a8a" stroke-width="0.8"/>
<circle cx="171.34" cy="289.65" r="1.45" fill="#d4d4d4" stroke="#8a8a8a" stroke-width="0.8"/>
<circle cx="172.96" cy="290.64" r="1.45" fill="#d4d4d4" stroke="#8a8a8a" stroke-width="0.8"/>
<circle cx="174.30" cy="291.94" r="1.45" fill="#d4d4d4" stroke="#8a8a8a" stroke-width="0.8"/>
<circle cx="175.42" cy="293.29" r="1.45" fill="#d4d4d4" stroke="#8a8a8a" stroke-width="0.8"/>
<circle cx="176.46" cy="294.96" r="1.45" fill="#d4d4d4" stroke="#8a8a8a" stroke-width="0.8"/>
<circle cx="177.36" cy="296.40" r="1.45" fill="#d4d4d4" stroke="#8a8a8a" stroke-width="0.8"/>
<circle cx="178.50" cy="297.81" r="1.45" fill="#d4d4d4" stroke="#8a8a8a" stroke-width="0.8"/>
<circle cx="179.83" cy="299.28" r="1.45" fill="#d4d4d4" stroke="#8a8a8a" stroke-width="0.8"/>
<circle cx="181.31" cy="300.63" r="1.45" fill="#d4d4d4" stroke="#8a8a8a" stroke-width="0.8"/>
<circle cx="182.91" cy="301.68" r="1.45" fill="#d4d4d4" stroke="#8a8a8a" stroke-width="0.8"/>
<circle cx="184.63" cy="302.46" r="1.45" fill="#d4d4d4" stroke="#8a8a8a" stroke-width="0.8"/>
<circle cx="186.50" cy="303.05" r="1.45" fill="#d4d4d4" stroke="#8a8a8a" stroke-width="0.8"/>
<circle cx="188.57" cy="303.51" r="1.45" fill="#d4d4d4" stroke="#8a8a8a" stroke-width="0.8"/>
<circle cx="190.31" cy="303.73" r="1.45" fill="#d4d4d4" stroke="#8a8a8a" stroke-width="0.8"/>
<circle cx="192.10" cy="303.87" r="1.45" fill="#d4d4d4" stroke="#8a8a8a" stroke-width="0.8"/>
<circle cx="193.85" cy="303.97" r="1.45" fill="#d4d4d4" stroke="#8a8a8a" stroke-width="0.8"/>
<circle cx="195.53" cy="304.04" r="1.45" fill="#d4d4d4" stroke="#8a8a8a" stroke-width="0.8"/>
<circle cx="197.31" cy="304.05" r="1.45" fill="#d4d4d4" stroke="#8a8a8a" stroke-width="0.8"/>
<circle cx="199.42" cy="304.02" r="1.45" fill="#d4d4d4" stroke="#8a8a8a" stroke-width="0.8"/>
</g>
<rect x="31.3" y="195.0" width="169.20" height="137.20" fill="none" stroke="#2a2a2a" stroke-width="1.2"/>
<line x1="59.50" y1="332.20" x2="59.50" y2="334.80" stroke="#2a2a2a" stroke-width="1.2"/>
<text x="59.50" y="345.30" font-size="10" text-anchor="middle" fill="#000" font-weight="bold">3200</text>
<line x1="115.90" y1="332.20" x2="115.90" y2="334.80" stroke="#2a2a2a" stroke-width="1.2"/>
<text x="115.90" y="345.30" font-size="10" text-anchor="middle" fill="#000" font-weight="bold">3400</text>
<line x1="172.30" y1="332.20" x2="172.30" y2="334.80" stroke="#2a2a2a" stroke-width="1.2"/>
<text x="172.30" y="345.30" font-size="10" text-anchor="middle" fill="#000" font-weight="bold">3600</text>
<text x="116.00" y="361.80" font-size="11.6" text-anchor="middle" fill="#000" font-weight="bold">Raman shift (cm<tspan dy="-4.8" font-size="8">-1</tspan><tspan dy="4.8">)</tspan></text>
<text x="21.70" y="263.85" font-size="11.6" text-anchor="middle" fill="#000" font-weight="bold" transform="rotate(-90 21.70 263.85)">Intensity (a.u.)</text>
<text x="51.00" y="236.70" font-size="9" text-anchor="start" fill="#000" font-weight="bold">Free</text>
<text x="51.00" y="247.60" font-size="9" text-anchor="start" fill="#000" font-weight="bold">water</text>
<text x="167.40" y="243.00" font-size="9" text-anchor="middle" fill="#000" font-weight="bold">Intermediate</text>
<text x="169.90" y="254.40" font-size="9" text-anchor="middle" fill="#000" font-weight="bold">water</text>
<line x1="67.80" y1="255.40" x2="77.51" y2="278.74" stroke="#000" stroke-width="0.9"/>
<polygon points="78.70,281.60 75.47,279.04 79.16,277.51" fill="#000"/>
<line x1="79.30" y1="244.00" x2="98.65" y2="255.70" stroke="#000" stroke-width="0.9"/>
<polygon points="101.30,257.30 97.18,257.15 99.25,253.73" fill="#000"/>
<line x1="151.90" y1="259.50" x2="142.25" y2="271.39" stroke="#000" stroke-width="0.9"/>
<polygon points="140.30,273.80 141.01,269.74 144.12,272.26" fill="#000"/>
<line x1="168.10" y1="264.00" x2="170.83" y2="294.71" stroke="#000" stroke-width="0.9"/>
<polygon points="171.10,297.80 168.79,294.39 172.77,294.04" fill="#000"/>
<text x="207.00" y="199.10" font-size="19.5" text-anchor="start" fill="#000" font-weight="bold">e</text>
<rect x="280.60" y="323.58" width="26.00" height="12.52" fill="#edc66a" stroke="#222" stroke-width="1.0"/>
<line x1="291.80" y1="323.28" x2="295.40" y2="323.28" stroke="#000" stroke-width="1.2"/>
<rect x="323.60" y="318.43" width="26.00" height="17.67" fill="#edc66a" stroke="#222" stroke-width="1.0"/>
<line x1="334.80" y1="318.13" x2="338.40" y2="318.13" stroke="#000" stroke-width="1.2"/>
<rect x="366.50" y="278.79" width="26.00" height="57.31" fill="#4fbbfe" stroke="#222" stroke-width="1.0"/>
<line x1="377.70" y1="278.49" x2="381.30" y2="278.49" stroke="#000" stroke-width="1.2"/>
<rect x="409.60" y="217.59" width="26.00" height="118.51" fill="#4fbbfe" stroke="#222" stroke-width="1.0"/>
<line x1="420.80" y1="217.29" x2="424.40" y2="217.29" stroke="#000" stroke-width="1.2"/>
<line x1="358.70" y1="197.00" x2="358.70" y2="336.10" stroke="#333" stroke-width="1.0" stroke-dasharray="2.2,1.6"/>
<rect x="271.8" y="197.0" width="172.40" height="139.10" fill="none" stroke="#2a2a2a" stroke-width="1.2"/>
<line x1="269.20" y1="336.10" x2="271.80" y2="336.10" stroke="#2a2a2a" stroke-width="1.2"/>
<text x="266.60" y="339.80" font-size="10.3" text-anchor="end" fill="#000" font-weight="bold">0</text>
<line x1="269.20" y1="308.28" x2="271.80" y2="308.28" stroke="#2a2a2a" stroke-width="1.2"/>
<text x="266.60" y="311.98" font-size="10.3" text-anchor="end" fill="#000" font-weight="bold">2000</text>
<line x1="269.20" y1="280.46" x2="271.80" y2="280.46" stroke="#2a2a2a" stroke-width="1.2"/>
<text x="266.60" y="284.16" font-size="10.3" text-anchor="end" fill="#000" font-weight="bold">4000</text>
<line x1="269.20" y1="252.64" x2="271.80" y2="252.64" stroke="#2a2a2a" stroke-width="1.2"/>
<text x="266.60" y="256.34" font-size="10.3" text-anchor="end" fill="#000" font-weight="bold">6000</text>
<line x1="269.20" y1="224.82" x2="271.80" y2="224.82" stroke="#2a2a2a" stroke-width="1.2"/>
<text x="266.60" y="228.52" font-size="10.3" text-anchor="end" fill="#000" font-weight="bold">8000</text>
<line x1="269.20" y1="197.00" x2="271.80" y2="197.00" stroke="#2a2a2a" stroke-width="1.2"/>
<text x="266.60" y="200.70" font-size="10.3" text-anchor="end" fill="#000" font-weight="bold">10000</text>
<line x1="293.60" y1="336.10" x2="293.60" y2="338.70" stroke="#2a2a2a" stroke-width="1.2"/>
<text x="291.90" y="353.60" font-size="10.4" text-anchor="middle" fill="#000" font-weight="bold" transform="rotate(-20 291.90 353.60)">BCBH</text>
<line x1="336.60" y1="336.10" x2="336.60" y2="338.70" stroke="#2a2a2a" stroke-width="1.2"/>
<text x="334.90" y="353.60" font-size="10.4" text-anchor="middle" fill="#000" font-weight="bold" transform="rotate(-20 334.90 353.60)">BCBH/PPy</text>
<line x1="379.50" y1="336.10" x2="379.50" y2="338.70" stroke="#2a2a2a" stroke-width="1.2"/>
<text x="377.80" y="353.60" font-size="10.4" text-anchor="middle" fill="#000" font-weight="bold" transform="rotate(-20 377.80 353.60)">BCBH</text>
<line x1="422.60" y1="336.10" x2="422.60" y2="338.70" stroke="#2a2a2a" stroke-width="1.2"/>
<text x="420.90" y="353.60" font-size="10.4" text-anchor="middle" fill="#000" font-weight="bold" transform="rotate(-20 420.90 353.60)">BCBH/PPy</text>
<text x="304.60" y="212.10" font-size="10.2" text-anchor="start" fill="#000" font-weight="bold">0 sun</text>
<text x="390.80" y="212.10" font-size="10.2" text-anchor="start" fill="#000" font-weight="bold">1 sun</text>
<line x1="338.20" y1="208.90" x2="378.60" y2="208.90" stroke="#000" stroke-width="1.0"/>
<polygon points="382.60,208.90 378.10,211.30 378.10,206.50" fill="#000"/>
<text x="232.30" y="266.60" font-size="11.6" text-anchor="middle" fill="#000" font-weight="bold" transform="rotate(-90 232.30 266.60)">Adsorption capacity (g m<tspan dy="-4.8" font-size="8">-2</tspan><tspan dy="4.8">)</tspan></text>
<text x="448.90" y="198.50" font-size="19.5" text-anchor="start" fill="#000" font-weight="bold">f</text>
<line x1="512.50" y1="316.40" x2="651.00" y2="316.40" stroke="#111" stroke-width="1.1" stroke-dasharray="4.4,3.2"/>
<polygon points="529.50,237.32 530.88,241.02 534.83,241.19 531.73,243.64 532.79,247.45 529.50,245.27 526.21,247.45 527.27,243.64 524.17,241.19 528.12,241.02" fill="#0a0aee" stroke="none" stroke-width="1" stroke-linejoin="miter"/>
<line x1="529.50" y1="238.12" x2="529.50" y2="243.42" stroke="#9ccfff" stroke-width="1.0"/>
<ellipse cx="529.50" cy="243.52" rx="1.45" ry="1.2" fill="#a4d4ff"/>
<polygon points="564.60,227.38 565.98,231.08 569.93,231.25 566.83,233.71 567.89,237.51 564.60,235.33 561.31,237.51 562.37,233.71 559.27,231.25 563.22,231.08" fill="#0a0aee" stroke="none" stroke-width="1" stroke-linejoin="miter"/>
<line x1="564.60" y1="228.18" x2="564.60" y2="233.48" stroke="#9ccfff" stroke-width="1.0"/>
<ellipse cx="564.60" cy="233.58" rx="1.45" ry="1.2" fill="#a4d4ff"/>
<polygon points="599.60,219.93 600.98,223.63 604.93,223.80 601.83,226.26 602.89,230.06 599.60,227.88 596.31,230.06 597.37,226.26 594.27,223.80 598.22,223.63" fill="#0a0aee" stroke="none" stroke-width="1" stroke-linejoin="miter"/>
<line x1="599.60" y1="220.73" x2="599.60" y2="226.03" stroke="#9ccfff" stroke-width="1.0"/>
<ellipse cx="599.60" cy="226.13" rx="1.45" ry="1.2" fill="#a4d4ff"/>
<polygon points="634.60,210.24 635.98,213.94 639.93,214.11 636.83,216.57 637.89,220.37 634.60,218.19 631.31,220.37 632.37,216.57 629.27,214.11 633.22,213.94" fill="#0a0aee" stroke="none" stroke-width="1" stroke-linejoin="miter"/>
<line x1="634.60" y1="211.04" x2="634.60" y2="216.34" stroke="#9ccfff" stroke-width="1.0"/>
<ellipse cx="634.60" cy="216.44" rx="1.45" ry="1.2" fill="#a4d4ff"/>
<line x1="599.40" y1="265.00" x2="599.40" y2="233.30" stroke="#000" stroke-width="1.3"/>
<polygon points="599.40,229.60 601.80,233.80 597.00,233.80" fill="#000"/>
<line x1="599.40" y1="265.00" x2="599.40" y2="311.60" stroke="#000" stroke-width="1.3"/>
<polygon points="599.40,315.30 597.00,311.10 601.80,311.10" fill="#000"/>
<rect x="511.9" y="194.3" width="139.80" height="136.80" fill="none" stroke="#2a2a2a" stroke-width="1.2"/>
<line x1="509.30" y1="331.10" x2="511.90" y2="331.10" stroke="#2a2a2a" stroke-width="1.2"/>
<text x="506.80" y="334.80" font-size="10.3" text-anchor="end" fill="#000" font-weight="bold">0</text>
<line x1="509.30" y1="300.05" x2="511.90" y2="300.05" stroke="#2a2a2a" stroke-width="1.2"/>
<text x="506.80" y="303.75" font-size="10.3" text-anchor="end" fill="#000" font-weight="bold">2500</text>
<line x1="509.30" y1="269.00" x2="511.90" y2="269.00" stroke="#2a2a2a" stroke-width="1.2"/>
<text x="506.80" y="272.70" font-size="10.3" text-anchor="end" fill="#000" font-weight="bold">5000</text>
<line x1="509.30" y1="237.95" x2="511.90" y2="237.95" stroke="#2a2a2a" stroke-width="1.2"/>
<text x="506.80" y="241.65" font-size="10.3" text-anchor="end" fill="#000" font-weight="bold">7500</text>
<line x1="509.30" y1="206.90" x2="511.90" y2="206.90" stroke="#2a2a2a" stroke-width="1.2"/>
<text x="506.80" y="210.60" font-size="10.3" text-anchor="end" fill="#000" font-weight="bold">10000</text>
<line x1="529.50" y1="331.10" x2="529.50" y2="333.70" stroke="#2a2a2a" stroke-width="1.2"/>
<text x="529.70" y="347.40" font-size="10.4" text-anchor="middle" fill="#000" font-weight="bold" transform="rotate(-20 529.70 347.40)">0.6 sun</text>
<line x1="564.60" y1="331.10" x2="564.60" y2="333.70" stroke="#2a2a2a" stroke-width="1.2"/>
<text x="564.80" y="347.40" font-size="10.4" text-anchor="middle" fill="#000" font-weight="bold" transform="rotate(-20 564.80 347.40)">0.8 sun</text>
<line x1="599.60" y1="331.10" x2="599.60" y2="333.70" stroke="#2a2a2a" stroke-width="1.2"/>
<text x="599.80" y="347.40" font-size="10.4" text-anchor="middle" fill="#000" font-weight="bold" transform="rotate(-20 599.80 347.40)">1.0 sun</text>
<line x1="634.60" y1="331.10" x2="634.60" y2="333.70" stroke="#2a2a2a" stroke-width="1.2"/>
<text x="634.80" y="347.40" font-size="10.4" text-anchor="middle" fill="#000" font-weight="bold" transform="rotate(-20 634.80 347.40)">1.2 sun</text>
<text x="517.80" y="310.30" font-size="9.5" text-anchor="start" fill="#000" font-weight="bold">0 sun</text>
<text x="547.20" y="278.40" font-size="9.3" text-anchor="start" fill="#000" font-weight="bold" font-style="italic">6.7 times</text>
<text x="473.80" y="263.20" font-size="11.6" text-anchor="middle" fill="#000" font-weight="bold" transform="rotate(-90 473.80 263.20)">Adsorption capacity (g m<tspan dy="-4.8" font-size="8">-2</tspan><tspan dy="4.8">)</tspan></text>
<defs><filter id="cblur" x="-10%" y="-10%" width="120%" height="120%"><feGaussianBlur stdDeviation="0.8"/></filter></defs>
<defs><radialGradient id="gb" cx="0.38" cy="0.32" r="0.7"><stop offset="0" stop-color="#ffffff"/><stop offset="0.18" stop-color="#d0d0d0"/><stop offset="0.4" stop-color="#222"/><stop offset="1" stop-color="#000"/></radialGradient><radialGradient id="gr" cx="0.36" cy="0.36" r="0.7"><stop offset="0" stop-color="#ffffff"/><stop offset="0.13" stop-color="#ffe0e0"/><stop offset="0.36" stop-color="#f04848"/><stop offset="1" stop-color="#e83a3a"/></radialGradient><radialGradient id="gs" cx="0.34" cy="0.36" r="0.7"><stop offset="0" stop-color="#ffffff"/><stop offset="0.14" stop-color="#ffe4e4"/><stop offset="0.36" stop-color="#ff6e6e"/><stop offset="1" stop-color="#f65e5e"/></radialGradient></defs>
<text x="-0.50" y="381.10" font-size="19.5" text-anchor="start" fill="#000" font-weight="bold">g</text>
<circle cx="54.90" cy="395.14" r="2.9" fill="url(#gb)" stroke="none" stroke-width="1"/>
<circle cx="72.00" cy="397.75" r="2.9" fill="url(#gb)" stroke="none" stroke-width="1"/>
<circle cx="89.10" cy="400.91" r="2.9" fill="url(#gb)" stroke="none" stroke-width="1"/>
<circle cx="106.20" cy="399.26" r="2.9" fill="url(#gb)" stroke="none" stroke-width="1"/>
<circle cx="123.30" cy="399.26" r="2.9" fill="url(#gb)" stroke="none" stroke-width="1"/>
<circle cx="140.40" cy="402.29" r="2.9" fill="url(#gb)" stroke="none" stroke-width="1"/>
<circle cx="157.50" cy="404.76" r="2.9" fill="url(#gb)" stroke="none" stroke-width="1"/>
<circle cx="174.60" cy="407.65" r="2.9" fill="url(#gb)" stroke="none" stroke-width="1"/>
<circle cx="191.70" cy="406.14" r="2.9" fill="url(#gb)" stroke="none" stroke-width="1"/>
<circle cx="208.80" cy="404.76" r="2.9" fill="url(#gb)" stroke="none" stroke-width="1"/>
<g>
<polygon points="65.30,446.40 81.00,435.80 107.30,441.50 90.40,449.80" fill="#606060" stroke="#606060" stroke-width="0.6" stroke-linejoin="round"/>
<polygon points="65.30,446.40 90.40,449.80 88.80,468.70 68.20,461.70" fill="#4b4b4b" stroke="#4b4b4b" stroke-width="0.6" stroke-linejoin="round"/>
<polygon points="90.40,449.80 107.30,441.50 106.00,457.10 88.80,468.70" fill="#545454" stroke="#545454" stroke-width="0.6" stroke-linejoin="round"/>
<ellipse cx="78.0" cy="443.0" rx="5" ry="2" fill="#404040" opacity="0.25"/>
<ellipse cx="95.0" cy="441.0" rx="6" ry="2.2" fill="#404040" opacity="0.25"/>
<ellipse cx="75.0" cy="455.0" rx="3" ry="4" fill="#404040" opacity="0.25"/>
<ellipse cx="99.0" cy="452.0" rx="3" ry="3" fill="#404040" opacity="0.25"/>
<polyline points="71.00,455.00 74.00,459.00 77.00,455.00 80.00,463.00 83.00,458.00 86.00,465.00" fill="none" stroke="#9a9a9a" stroke-width="0.55" stroke-linejoin="round"/>
<polyline points="91.00,458.00 95.00,454.00 99.00,457.00 103.00,452.00" fill="none" stroke="#9a9a9a" stroke-width="0.55" stroke-linejoin="round"/>
<polyline points="84.00,461.00 88.00,456.00 92.00,463.00" fill="none" stroke="#9a9a9a" stroke-width="0.55" stroke-linejoin="round"/>
<polyline points="79.00,447.00 86.00,445.00" fill="none" stroke="#9a9a9a" stroke-width="0.55" stroke-linejoin="round"/>
<polyline points="72.00,450.00 74.00,452.00" fill="none" stroke="#9a9a9a" stroke-width="0.55" stroke-linejoin="round"/>
</g>
<g>
<polygon points="158.60,446.00 174.30,435.40 200.60,441.10 183.70,449.40" fill="#b8b8b8" stroke="#b8b8b8" stroke-width="0.6" stroke-linejoin="round"/>
<polygon points="158.60,446.00 183.70,449.40 182.10,468.30 161.50,461.30" fill="#a6a6a6" stroke="#a6a6a6" stroke-width="0.6" stroke-linejoin="round"/>
<polygon points="183.70,449.40 200.60,441.10 199.30,456.70 182.10,468.30" fill="#adadad" stroke="#adadad" stroke-width="0.6" stroke-linejoin="round"/>
<ellipse cx="171.3" cy="442.6" rx="5" ry="2" fill="#9a9a9a" opacity="0.25"/>
<ellipse cx="188.3" cy="440.6" rx="6" ry="2.2" fill="#9a9a9a" opacity="0.25"/>
<ellipse cx="168.3" cy="454.6" rx="3" ry="4" fill="#9a9a9a" opacity="0.25"/>
<ellipse cx="192.3" cy="451.6" rx="3" ry="3" fill="#9a9a9a" opacity="0.25"/>
<polyline points="164.30,454.60 167.30,458.60 170.30,454.60 173.30,462.60 176.30,457.60 179.30,464.60" fill="none" stroke="#e2e2e2" stroke-width="0.55" stroke-linejoin="round"/>
<polyline points="184.30,457.60 188.30,453.60 192.30,456.60 196.30,451.60" fill="none" stroke="#e2e2e2" stroke-width="0.55" stroke-linejoin="round"/>
<polyline points="177.30,460.60 181.30,455.60 185.30,462.60" fill="none" stroke="#e2e2e2" stroke-width="0.55" stroke-linejoin="round"/>
<polyline points="172.30,446.60 179.30,444.60" fill="none" stroke="#e2e2e2" stroke-width="0.55" stroke-linejoin="round"/>
<polyline points="165.30,449.60 167.30,451.60" fill="none" stroke="#e2e2e2" stroke-width="0.55" stroke-linejoin="round"/>
</g>
<text x="133.30" y="439.90" font-size="8.9" text-anchor="middle" fill="#000" font-weight="bold">NaNO<tspan dy="1.5" font-size="6">3</tspan></text>
<line x1="116.00" y1="448.20" x2="143.50" y2="448.20" stroke="#222" stroke-width="1.5"/>
<polygon points="147.40,448.20 143.00,450.70 143.00,445.70" fill="#222"/>
<line x1="147.80" y1="455.90" x2="120.80" y2="455.90" stroke="#222" stroke-width="1.5"/>
<polygon points="116.90,455.90 121.30,453.40 121.30,458.40" fill="#222"/>
<text x="133.20" y="469.40" font-size="8.9" text-anchor="middle" fill="#000" font-weight="bold">KCl</text>
<text x="86.50" y="480.90" font-size="8.5" text-anchor="middle" fill="#000" font-weight="bold">Before</text>
<text x="86.00" y="490.80" font-size="8.5" text-anchor="middle" fill="#000" font-weight="bold">adsorption</text>
<text x="178.60" y="480.90" font-size="8.5" text-anchor="middle" fill="#000" font-weight="bold">After</text>
<text x="178.60" y="490.80" font-size="8.5" text-anchor="middle" fill="#000" font-weight="bold">adsorption</text>
<rect x="46.4" y="377.4" width="170.80" height="137.50" fill="none" stroke="#2a2a2a" stroke-width="1.2"/>
<line x1="43.80" y1="514.90" x2="46.40" y2="514.90" stroke="#2a2a2a" stroke-width="1.2"/>
<text x="41.40" y="518.10" font-size="10.2" text-anchor="end" fill="#000" font-weight="bold">0</text>
<line x1="43.80" y1="487.40" x2="46.40" y2="487.40" stroke="#2a2a2a" stroke-width="1.2"/>
<text x="41.40" y="490.60" font-size="10.2" text-anchor="end" fill="#000" font-weight="bold">20</text>
<line x1="43.80" y1="459.90" x2="46.40" y2="459.90" stroke="#2a2a2a" stroke-width="1.2"/>
<text x="41.40" y="463.10" font-size="10.2" text-anchor="end" fill="#000" font-weight="bold">40</text>
<line x1="43.80" y1="432.40" x2="46.40" y2="432.40" stroke="#2a2a2a" stroke-width="1.2"/>
<text x="41.40" y="435.60" font-size="10.2" text-anchor="end" fill="#000" font-weight="bold">60</text>
<line x1="43.80" y1="404.90" x2="46.40" y2="404.90" stroke="#2a2a2a" stroke-width="1.2"/>
<text x="41.40" y="408.10" font-size="10.2" text-anchor="end" fill="#000" font-weight="bold">80</text>
<line x1="43.80" y1="377.40" x2="46.40" y2="377.40" stroke="#2a2a2a" stroke-width="1.2"/>
<text x="41.40" y="380.60" font-size="10.2" text-anchor="end" fill="#000" font-weight="bold">100</text>
<line x1="54.90" y1="514.90" x2="54.90" y2="517.50" stroke="#2a2a2a" stroke-width="1.2"/>
<text x="54.90" y="527.70" font-size="10.3" text-anchor="middle" fill="#000" font-weight="bold">1</text>
<line x1="72.00" y1="514.90" x2="72.00" y2="517.50" stroke="#2a2a2a" stroke-width="1.2"/>
<text x="72.00" y="527.70" font-size="10.3" text-anchor="middle" fill="#000" font-weight="bold">2</text>
<line x1="89.10" y1="514.90" x2="89.10" y2="517.50" stroke="#2a2a2a" stroke-width="1.2"/>
<text x="89.10" y="527.70" font-size="10.3" text-anchor="middle" fill="#000" font-weight="bold">3</text>
<line x1="106.20" y1="514.90" x2="106.20" y2="517.50" stroke="#2a2a2a" stroke-width="1.2"/>
<text x="106.20" y="527.70" font-size="10.3" text-anchor="middle" fill="#000" font-weight="bold">4</text>
<line x1="123.30" y1="514.90" x2="123.30" y2="517.50" stroke="#2a2a2a" stroke-width="1.2"/>
<text x="123.30" y="527.70" font-size="10.3" text-anchor="middle" fill="#000" font-weight="bold">5</text>
<line x1="140.40" y1="514.90" x2="140.40" y2="517.50" stroke="#2a2a2a" stroke-width="1.2"/>
<text x="140.40" y="527.70" font-size="10.3" text-anchor="middle" fill="#000" font-weight="bold">6</text>
<line x1="157.50" y1="514.90" x2="157.50" y2="517.50" stroke="#2a2a2a" stroke-width="1.2"/>
<text x="157.50" y="527.70" font-size="10.3" text-anchor="middle" fill="#000" font-weight="bold">7</text>
<line x1="174.60" y1="514.90" x2="174.60" y2="517.50" stroke="#2a2a2a" stroke-width="1.2"/>
<text x="174.60" y="527.70" font-size="10.3" text-anchor="middle" fill="#000" font-weight="bold">8</text>
<line x1="191.70" y1="514.90" x2="191.70" y2="517.50" stroke="#2a2a2a" stroke-width="1.2"/>
<text x="191.70" y="527.70" font-size="10.3" text-anchor="middle" fill="#000" font-weight="bold">9</text>
<line x1="208.80" y1="514.90" x2="208.80" y2="517.50" stroke="#2a2a2a" stroke-width="1.2"/>
<text x="208.80" y="527.70" font-size="10.3" text-anchor="middle" fill="#000" font-weight="bold">10</text>
<text x="131.80" y="544.20" font-size="11.8" text-anchor="middle" fill="#000" font-weight="bold">Cycle (times)</text>
<text x="20.90" y="446.30" font-size="11.6" text-anchor="middle" fill="#000" font-weight="bold" transform="rotate(-90 20.90 446.30)">Adsorption ratio (%)</text>
<text x="230.90" y="381.30" font-size="19.5" text-anchor="start" fill="#000" font-weight="bold">h</text>
<defs><clipPath id="cliph"><rect x="271.6" y="368.5" width="159.7" height="147.29999999999995"/></clipPath></defs><g clip-path="url(#cliph)">
<polyline points="271.60,476.76 289.34,457.62 307.09,455.73 324.83,446.21 342.58,445.43 360.32,435.82 378.07,440.28 395.81,458.39 413.56,477.01 431.30,487.48" fill="none" stroke="#ee3b3b" stroke-width="1.2" stroke-linejoin="round"/>
<circle cx="271.60" cy="476.76" r="3.0" fill="url(#gr)" stroke="none" stroke-width="1"/>
<circle cx="289.34" cy="457.62" r="3.0" fill="url(#gr)" stroke="none" stroke-width="1"/>
<circle cx="307.09" cy="455.73" r="3.0" fill="url(#gr)" stroke="none" stroke-width="1"/>
<circle cx="324.83" cy="446.21" r="3.0" fill="url(#gr)" stroke="none" stroke-width="1"/>
<circle cx="342.58" cy="445.43" r="3.0" fill="url(#gr)" stroke="none" stroke-width="1"/>
<circle cx="360.32" cy="435.82" r="3.0" fill="url(#gr)" stroke="none" stroke-width="1"/>
<circle cx="378.07" cy="440.28" r="3.0" fill="url(#gr)" stroke="none" stroke-width="1"/>
<circle cx="395.81" cy="458.39" r="3.0" fill="url(#gr)" stroke="none" stroke-width="1"/>
<circle cx="413.56" cy="477.01" r="3.0" fill="url(#gr)" stroke="none" stroke-width="1"/>
<circle cx="431.30" cy="487.48" r="3.0" fill="url(#gr)" stroke="none" stroke-width="1"/>
<polyline points="271.60,448.01 289.34,419.18 307.09,406.82 324.83,405.70 342.58,405.70 360.32,401.15 378.07,400.38 395.81,403.47 413.56,419.43 431.30,439.26" fill="none" stroke="#000" stroke-width="1.2" stroke-linejoin="round"/>
<polygon points="271.60,443.91 272.60,446.63 275.50,446.74 273.22,448.53 274.01,451.33 271.60,449.71 269.19,451.33 269.98,448.53 267.70,446.74 270.60,446.63" fill="#000" stroke="none" stroke-width="1" stroke-linejoin="miter"/>
<polygon points="289.34,415.08 290.34,417.80 293.24,417.91 290.96,419.70 291.75,422.49 289.34,420.88 286.93,422.49 287.73,419.70 285.45,417.91 288.35,417.80" fill="#000" stroke="none" stroke-width="1" stroke-linejoin="miter"/>
<polygon points="307.09,402.72 308.09,405.44 310.99,405.55 308.71,407.34 309.50,410.14 307.09,408.52 304.68,410.14 305.47,407.34 303.19,405.55 306.09,405.44" fill="#000" stroke="none" stroke-width="1" stroke-linejoin="miter"/>
<polygon points="324.83,401.60 325.83,404.33 328.73,404.44 326.45,406.23 327.24,409.02 324.83,407.40 322.42,409.02 323.22,406.23 320.93,404.44 323.83,404.33" fill="#000" stroke="none" stroke-width="1" stroke-linejoin="miter"/>
<polygon points="342.58,401.60 343.58,404.33 346.48,404.44 344.19,406.23 344.99,409.02 342.58,407.40 340.17,409.02 340.96,406.23 338.68,404.44 341.58,404.33" fill="#000" stroke="none" stroke-width="1" stroke-linejoin="miter"/>
<polygon points="360.32,397.05 361.32,399.78 364.22,399.89 361.94,401.68 362.73,404.47 360.32,402.85 357.91,404.47 358.71,401.68 356.42,399.89 359.32,399.78" fill="#000" stroke="none" stroke-width="1" stroke-linejoin="miter"/>
<polygon points="378.07,396.28 379.07,399.01 381.97,399.12 379.68,400.91 380.48,403.70 378.07,402.08 375.66,403.70 376.45,400.91 374.17,399.12 377.07,399.01" fill="#000" stroke="none" stroke-width="1" stroke-linejoin="miter"/>
<polygon points="395.81,399.37 396.81,402.10 399.71,402.20 397.43,404.00 398.22,406.79 395.81,405.17 393.40,406.79 394.19,404.00 391.91,402.20 394.81,402.10" fill="#000" stroke="none" stroke-width="1" stroke-linejoin="miter"/>
<polygon points="413.56,415.33 414.55,418.06 417.45,418.17 415.17,419.96 415.97,422.75 413.56,421.13 411.15,422.75 411.94,419.96 409.66,418.17 412.56,418.06" fill="#000" stroke="none" stroke-width="1" stroke-linejoin="miter"/>
<polygon points="431.30,435.16 432.30,437.88 435.20,437.99 432.92,439.78 433.71,442.57 431.30,440.96 428.89,442.57 429.68,439.78 427.40,437.99 430.30,437.88" fill="#000" stroke="none" stroke-width="1" stroke-linejoin="miter"/>
</g>
<line x1="271.60" y1="378.50" x2="431.30" y2="378.50" stroke="#2a2a2a" stroke-width="1.2"/>
<line x1="271.60" y1="515.80" x2="431.30" y2="515.80" stroke="#2a2a2a" stroke-width="1.2"/>
<line x1="271.60" y1="378.50" x2="271.60" y2="515.80" stroke="#2a2a2a" stroke-width="1.2"/>
<line x1="431.30" y1="378.50" x2="431.30" y2="515.80" stroke="#ff1a1a" stroke-width="1.2"/>
<line x1="269.00" y1="515.80" x2="271.60" y2="515.80" stroke="#2a2a2a" stroke-width="1.2"/>
<text x="267.20" y="518.90" font-size="10.1" text-anchor="end" fill="#000" font-weight="bold">0.0</text>
<line x1="431.30" y1="515.80" x2="433.90" y2="515.80" stroke="#ff1a1a" stroke-width="1.2"/>
<text x="435.80" y="518.90" font-size="10.1" text-anchor="start" fill="#ff1a1a" font-weight="bold">0.0</text>
<line x1="269.00" y1="481.47" x2="271.60" y2="481.47" stroke="#2a2a2a" stroke-width="1.2"/>
<text x="267.20" y="484.57" font-size="10.1" text-anchor="end" fill="#000" font-weight="bold">0.4</text>
<line x1="431.30" y1="481.47" x2="433.90" y2="481.47" stroke="#ff1a1a" stroke-width="1.2"/>
<text x="435.80" y="484.57" font-size="10.1" text-anchor="start" fill="#ff1a1a" font-weight="bold">0.4</text>
<line x1="269.00" y1="447.15" x2="271.60" y2="447.15" stroke="#2a2a2a" stroke-width="1.2"/>
<text x="267.20" y="450.25" font-size="10.1" text-anchor="end" fill="#000" font-weight="bold">0.8</text>
<line x1="431.30" y1="447.15" x2="433.90" y2="447.15" stroke="#ff1a1a" stroke-width="1.2"/>
<text x="435.80" y="450.25" font-size="10.1" text-anchor="start" fill="#ff1a1a" font-weight="bold">0.8</text>
<line x1="269.00" y1="412.82" x2="271.60" y2="412.82" stroke="#2a2a2a" stroke-width="1.2"/>
<text x="267.20" y="415.93" font-size="10.1" text-anchor="end" fill="#000" font-weight="bold">1.2</text>
<line x1="431.30" y1="412.82" x2="433.90" y2="412.82" stroke="#ff1a1a" stroke-width="1.2"/>
<text x="435.80" y="415.93" font-size="10.1" text-anchor="start" fill="#ff1a1a" font-weight="bold">1.2</text>
<line x1="269.00" y1="378.50" x2="271.60" y2="378.50" stroke="#2a2a2a" stroke-width="1.2"/>
<text x="267.20" y="381.60" font-size="10.1" text-anchor="end" fill="#000" font-weight="bold">1.6</text>
<line x1="431.30" y1="378.50" x2="433.90" y2="378.50" stroke="#ff1a1a" stroke-width="1.2"/>
<text x="435.80" y="381.60" font-size="10.1" text-anchor="start" fill="#ff1a1a" font-weight="bold">1.6</text>
<line x1="271.60" y1="515.80" x2="271.60" y2="518.40" stroke="#2a2a2a" stroke-width="1.2"/>
<text x="271.60" y="528.60" font-size="10.3" text-anchor="middle" fill="#000" font-weight="bold">8</text>
<line x1="289.34" y1="515.80" x2="289.34" y2="518.40" stroke="#2a2a2a" stroke-width="1.2"/>
<text x="289.34" y="528.60" font-size="10.3" text-anchor="middle" fill="#000" font-weight="bold">9</text>
<line x1="307.09" y1="515.80" x2="307.09" y2="518.40" stroke="#2a2a2a" stroke-width="1.2"/>
<text x="307.09" y="528.60" font-size="10.3" text-anchor="middle" fill="#000" font-weight="bold">10</text>
<line x1="324.83" y1="515.80" x2="324.83" y2="518.40" stroke="#2a2a2a" stroke-width="1.2"/>
<text x="324.83" y="528.60" font-size="10.3" text-anchor="middle" fill="#000" font-weight="bold">11</text>
<line x1="342.58" y1="515.80" x2="342.58" y2="518.40" stroke="#2a2a2a" stroke-width="1.2"/>
<text x="342.58" y="528.60" font-size="10.3" text-anchor="middle" fill="#000" font-weight="bold">12</text>
<line x1="360.32" y1="515.80" x2="360.32" y2="518.40" stroke="#2a2a2a" stroke-width="1.2"/>
<text x="360.32" y="528.60" font-size="10.3" text-anchor="middle" fill="#000" font-weight="bold">13</text>
<line x1="378.07" y1="515.80" x2="378.07" y2="518.40" stroke="#2a2a2a" stroke-width="1.2"/>
<text x="378.07" y="528.60" font-size="10.3" text-anchor="middle" fill="#000" font-weight="bold">14</text>
<line x1="395.81" y1="515.80" x2="395.81" y2="518.40" stroke="#2a2a2a" stroke-width="1.2"/>
<text x="395.81" y="528.60" font-size="10.3" text-anchor="middle" fill="#000" font-weight="bold">15</text>
<line x1="413.56" y1="515.80" x2="413.56" y2="518.40" stroke="#2a2a2a" stroke-width="1.2"/>
<text x="413.56" y="528.60" font-size="10.3" text-anchor="middle" fill="#000" font-weight="bold">16</text>
<line x1="431.30" y1="515.80" x2="431.30" y2="518.40" stroke="#2a2a2a" stroke-width="1.2"/>
<text x="431.30" y="528.60" font-size="10.3" text-anchor="middle" fill="#000" font-weight="bold">17</text>
<text x="351.50" y="545.60" font-size="11.6" text-anchor="middle" fill="#000" font-weight="bold">Time</text>
<text x="246.00" y="447.40" font-size="11.6" text-anchor="middle" fill="#000" font-weight="bold" transform="rotate(-90 246.00 447.40)">ER (kg m<tspan dy="-4.8" font-size="8">-2</tspan><tspan dy="4.8"> h</tspan><tspan dy="-4.8" font-size="8">-1</tspan><tspan dy="4.8">)</tspan></text>
<text x="464.00" y="447.00" font-size="11.6" text-anchor="middle" fill="#ff1a1a" font-weight="bold" transform="rotate(-90 464.00 447.00)">Solar flux (kW m<tspan dy="-4.8" font-size="8">-2</tspan><tspan dy="4.8">)</tspan></text>
<text x="473.40" y="381.30" font-size="19.5" text-anchor="start" fill="#000" font-weight="bold">i</text>
<rect x="524.60" y="419.04" width="24.10" height="96.36" fill="#4fbbfe" stroke="#222" stroke-width="1.0"/>
<rect x="591.80" y="391.59" width="24.20" height="123.81" fill="#edc66a" stroke="#222" stroke-width="1.0"/>
<rect x="505.9" y="378.4" width="60.6" height="137.00" fill="none" stroke="#2a2a2a" stroke-width="1.2"/>
<rect x="573.8" y="378.4" width="60.7" height="137.00" fill="none" stroke="#2a2a2a" stroke-width="1.2"/>
<line x1="503.30" y1="515.40" x2="505.90" y2="515.40" stroke="#2a2a2a" stroke-width="1.2"/>
<text x="502.60" y="519.10" font-size="10.3" text-anchor="end" fill="#000" font-weight="bold">0</text>
<line x1="503.30" y1="481.15" x2="505.90" y2="481.15" stroke="#2a2a2a" stroke-width="1.2"/>
<text x="502.60" y="484.85" font-size="10.3" text-anchor="end" fill="#000" font-weight="bold">3</text>
<line x1="503.30" y1="446.90" x2="505.90" y2="446.90" stroke="#2a2a2a" stroke-width="1.2"/>
<text x="502.60" y="450.60" font-size="10.3" text-anchor="end" fill="#000" font-weight="bold">6</text>
<line x1="503.30" y1="412.65" x2="505.90" y2="412.65" stroke="#2a2a2a" stroke-width="1.2"/>
<text x="502.60" y="416.35" font-size="10.3" text-anchor="end" fill="#000" font-weight="bold">9</text>
<line x1="503.30" y1="378.40" x2="505.90" y2="378.40" stroke="#2a2a2a" stroke-width="1.2"/>
<text x="502.60" y="382.10" font-size="10.3" text-anchor="end" fill="#000" font-weight="bold">12</text>
<line x1="634.50" y1="515.40" x2="637.10" y2="515.40" stroke="#2a2a2a" stroke-width="1.2"/>
<text x="638.70" y="519.10" font-size="10.3" text-anchor="start" fill="#000" font-weight="bold">0</text>
<line x1="634.50" y1="481.15" x2="637.10" y2="481.15" stroke="#2a2a2a" stroke-width="1.2"/>
<text x="638.70" y="484.85" font-size="10.3" text-anchor="start" fill="#000" font-weight="bold">20</text>
<line x1="634.50" y1="446.90" x2="637.10" y2="446.90" stroke="#2a2a2a" stroke-width="1.2"/>
<text x="638.70" y="450.60" font-size="10.3" text-anchor="start" fill="#000" font-weight="bold">40</text>
<line x1="634.50" y1="412.65" x2="637.10" y2="412.65" stroke="#2a2a2a" stroke-width="1.2"/>
<text x="638.70" y="416.35" font-size="10.3" text-anchor="start" fill="#000" font-weight="bold">60</text>
<line x1="634.50" y1="378.40" x2="637.10" y2="378.40" stroke="#2a2a2a" stroke-width="1.2"/>
<text x="638.70" y="382.10" font-size="10.3" text-anchor="start" fill="#000" font-weight="bold">80</text>
<line x1="536.70" y1="515.40" x2="536.70" y2="517.80" stroke="#2a2a2a" stroke-width="1.2"/>
<line x1="603.90" y1="515.40" x2="603.90" y2="517.80" stroke="#2a2a2a" stroke-width="1.2"/>
<text x="536.70" y="529.00" font-size="10.3" text-anchor="middle" fill="#000" font-weight="bold">WCR</text>
<text x="603.90" y="529.00" font-size="10.3" text-anchor="middle" fill="#000" font-weight="bold">WCE</text>
<text x="486.00" y="447.35" font-size="11.6" text-anchor="middle" fill="#000" font-weight="bold" transform="rotate(-90 486.00 447.35)">WCR (kg m<tspan dy="-4.8" font-size="8">-2</tspan><tspan dy="4.8">)</tspan></text>
<text x="661.80" y="446.60" font-size="11.6" text-anchor="middle" fill="#000" font-weight="bold" transform="rotate(-90 661.80 446.60)">WCE (%)</text></svg></body></html>
